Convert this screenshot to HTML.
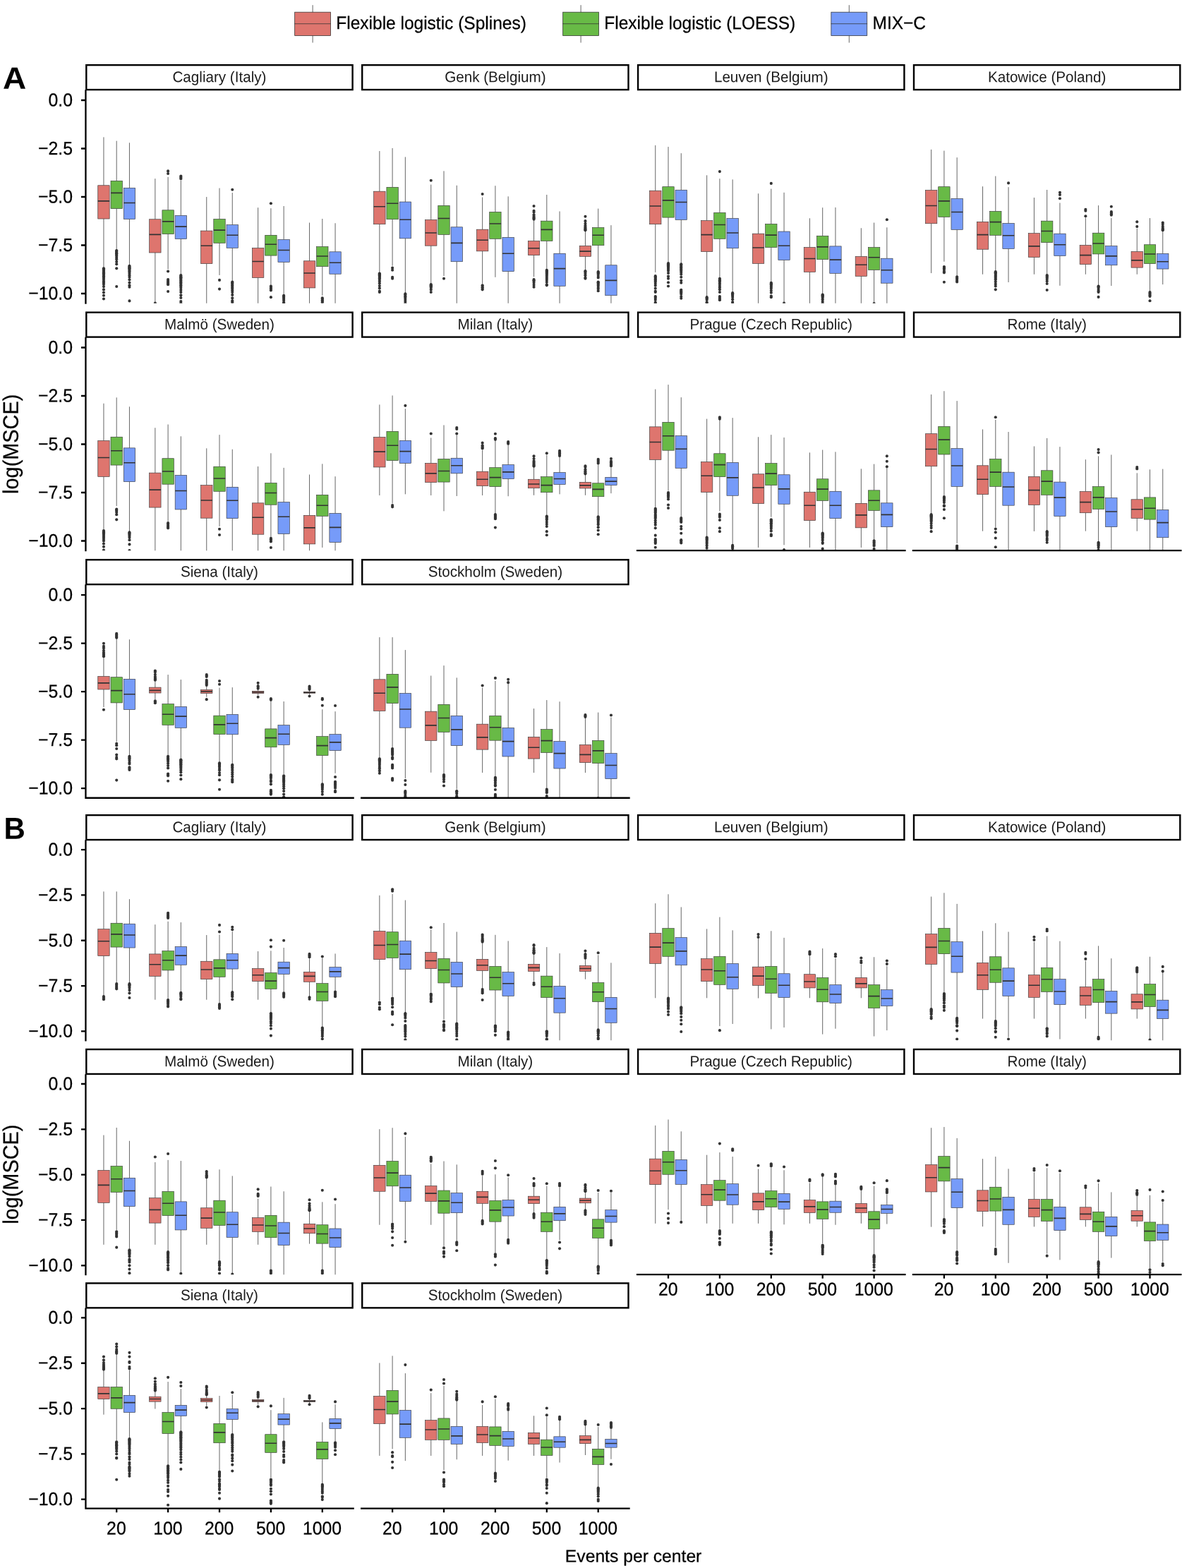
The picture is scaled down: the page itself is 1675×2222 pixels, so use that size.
<!DOCTYPE html>
<html lang="en"><head><meta charset="utf-8"><title>log(MSCE) by events per center</title><style>html,body{margin:0;padding:0;background:#fff}svg{display:block}</style></head><body><svg width="1675" height="2222" viewBox="0 0 1675 2222" font-family='"Liberation Sans", sans-serif' fill="#000"><defs><clipPath id="cA1"><rect x="121.1" y="128.3" width="379.7" height="301.4"/></clipPath><clipPath id="cA2"><rect x="512" y="128.3" width="379.7" height="301.4"/></clipPath><clipPath id="cA3"><rect x="902.9" y="128.3" width="379.7" height="301.4"/></clipPath><clipPath id="cA4"><rect x="1293.8" y="128.3" width="379.7" height="301.4"/></clipPath><clipPath id="cA5"><rect x="121.1" y="478.8" width="379.7" height="301.4"/></clipPath><clipPath id="cA6"><rect x="512" y="478.8" width="379.7" height="301.4"/></clipPath><clipPath id="cA7"><rect x="902.9" y="478.8" width="379.7" height="301.4"/></clipPath><clipPath id="cA8"><rect x="1293.8" y="478.8" width="379.7" height="301.4"/></clipPath><clipPath id="cA9"><rect x="121.1" y="829.35" width="379.7" height="301.4"/></clipPath><clipPath id="cA10"><rect x="512" y="829.35" width="379.7" height="301.4"/></clipPath><clipPath id="cB1"><rect x="121.1" y="1191.25" width="379.7" height="283"/></clipPath><clipPath id="cB2"><rect x="512" y="1191.25" width="379.7" height="283"/></clipPath><clipPath id="cB3"><rect x="902.9" y="1191.25" width="379.7" height="283"/></clipPath><clipPath id="cB4"><rect x="1293.8" y="1191.25" width="379.7" height="283"/></clipPath><clipPath id="cB5"><rect x="121.1" y="1523.15" width="379.7" height="283"/></clipPath><clipPath id="cB6"><rect x="512" y="1523.15" width="379.7" height="283"/></clipPath><clipPath id="cB7"><rect x="902.9" y="1523.15" width="379.7" height="283"/></clipPath><clipPath id="cB8"><rect x="1293.8" y="1523.15" width="379.7" height="283"/></clipPath><clipPath id="cB9"><rect x="121.1" y="1854.55" width="379.7" height="283"/></clipPath><clipPath id="cB10"><rect x="512" y="1854.55" width="379.7" height="283"/></clipPath></defs><rect x="122.3" y="92.2" width="377.3" height="34.9" fill="#fff" stroke="#000" stroke-width="2.4"/>
<text transform="translate(310.95 116.35) rotate(0.03) scale(1 1.04)" font-size="20.65" text-anchor="middle" fill="#1a1a1a">Cagliary (Italy)</text>
<g clip-path="url(#cA1)"><path d="M146.95 194.39V262.77M146.95 310.04V379.15M165.2 199.66V256.29M165.2 295.64V353.95M183.45 202.3V266.37M183.45 310.52V375.55M219.85 253.17V310.76M219.85 358.03V431.94M238.1 250.77V297.8M238.1 331.64V381.55M256.35 255.57V305.48M256.35 338.6V388.75M292.75 279.09V327.08M292.75 373.63V431.94M311 266.61V310.52M311 344.36V389.95M329.25 273.09V318.68M329.25 351.31V398.34M365.65 294.21V351.55M365.65 393.55V431.94M383.9 295.16V333.32M383.9 362.11V404.34M402.15 292.05V339.56M402.15 371.47V418.74M438.55 315.56V369.79M438.55 407.94V431.94M456.8 310.04V349.63M456.8 377.71V418.74M475.05 316.28V356.83M475.05 388.27V431.94" stroke="#333333" stroke-width="0.75" fill="none"/><g fill="#333333"><circle cx="146.95" cy="380.35" r="2.05"/><circle cx="146.95" cy="381.21" r="2.05"/><circle cx="146.95" cy="381.99" r="2.05"/><circle cx="146.95" cy="383.11" r="2.05"/><circle cx="146.95" cy="383.92" r="2.05"/><circle cx="146.95" cy="385.1" r="2.05"/><circle cx="146.95" cy="386.23" r="2.05"/><circle cx="146.95" cy="387.2" r="2.05"/><circle cx="146.95" cy="388.6" r="2.05"/><circle cx="146.95" cy="389.7" r="2.05"/><circle cx="146.95" cy="391.25" r="2.05"/><circle cx="146.95" cy="392.56" r="2.05"/><circle cx="146.95" cy="393.98" r="2.05"/><circle cx="146.95" cy="395.92" r="2.05"/><circle cx="146.95" cy="398.59" r="2.05"/><circle cx="146.95" cy="400.55" r="2.05"/><circle cx="146.95" cy="402.84" r="2.05"/><circle cx="146.95" cy="406.08" r="2.05"/><circle cx="146.95" cy="410.41" r="2.05"/><circle cx="146.95" cy="414.55" r="2.05"/><circle cx="146.95" cy="418.77" r="2.05"/><circle cx="146.95" cy="423.54" r="2.05"/><circle cx="165.2" cy="355.15" r="2.05"/><circle cx="165.2" cy="355.85" r="2.05"/><circle cx="165.2" cy="357.1" r="2.05"/><circle cx="165.2" cy="358.15" r="2.05"/><circle cx="165.2" cy="359.24" r="2.05"/><circle cx="165.2" cy="360.48" r="2.05"/><circle cx="165.2" cy="362.13" r="2.05"/><circle cx="165.2" cy="364.8" r="2.05"/><circle cx="165.2" cy="367.16" r="2.05"/><circle cx="165.2" cy="370.9" r="2.05"/><circle cx="165.2" cy="374.35" r="2.05"/><circle cx="165.2" cy="380.35" r="2.05"/><circle cx="165.2" cy="406.02" r="2.05"/><circle cx="183.45" cy="376.75" r="2.05"/><circle cx="183.45" cy="377.63" r="2.05"/><circle cx="183.45" cy="378.67" r="2.05"/><circle cx="183.45" cy="379.48" r="2.05"/><circle cx="183.45" cy="380.34" r="2.05"/><circle cx="183.45" cy="381.38" r="2.05"/><circle cx="183.45" cy="382.92" r="2.05"/><circle cx="183.45" cy="384.42" r="2.05"/><circle cx="183.45" cy="386" r="2.05"/><circle cx="183.45" cy="388.1" r="2.05"/><circle cx="183.45" cy="390.36" r="2.05"/><circle cx="183.45" cy="392.71" r="2.05"/><circle cx="183.45" cy="396.33" r="2.05"/><circle cx="183.45" cy="400.49" r="2.05"/><circle cx="183.45" cy="404.3" r="2.05"/><circle cx="183.45" cy="406.74" r="2.05"/><circle cx="183.45" cy="426.42" r="2.05"/><circle cx="219.85" cy="429.54" r="2.05"/><circle cx="238.1" cy="242.38" r="2.05"/><circle cx="238.1" cy="245.97" r="2.05"/><circle cx="238.1" cy="384.43" r="2.05"/><circle cx="238.1" cy="395.94" r="2.05"/><circle cx="238.1" cy="397.74" r="2.05"/><circle cx="238.1" cy="399.54" r="2.05"/><circle cx="238.1" cy="401.34" r="2.05"/><circle cx="238.1" cy="403.14" r="2.05"/><circle cx="238.1" cy="412.98" r="2.05"/><circle cx="256.35" cy="253.17" r="2.05"/><circle cx="256.35" cy="251.37" r="2.05"/><circle cx="256.35" cy="249.57" r="2.05"/><circle cx="256.35" cy="389.95" r="2.05"/><circle cx="256.35" cy="390.92" r="2.05"/><circle cx="256.35" cy="392.14" r="2.05"/><circle cx="256.35" cy="393.36" r="2.05"/><circle cx="256.35" cy="394.37" r="2.05"/><circle cx="256.35" cy="395.97" r="2.05"/><circle cx="256.35" cy="397.03" r="2.05"/><circle cx="256.35" cy="398.43" r="2.05"/><circle cx="256.35" cy="400.28" r="2.05"/><circle cx="256.35" cy="401.71" r="2.05"/><circle cx="256.35" cy="403.64" r="2.05"/><circle cx="256.35" cy="405.21" r="2.05"/><circle cx="256.35" cy="407.8" r="2.05"/><circle cx="256.35" cy="410.88" r="2.05"/><circle cx="256.35" cy="414.08" r="2.05"/><circle cx="256.35" cy="418.34" r="2.05"/><circle cx="256.35" cy="421.96" r="2.05"/><circle cx="256.35" cy="427.1" r="2.05"/><circle cx="256.35" cy="429.54" r="2.05"/><circle cx="311" cy="396.9" r="2.05"/><circle cx="311" cy="409.62" r="2.05"/><circle cx="329.25" cy="268.77" r="2.05"/><circle cx="329.25" cy="399.54" r="2.05"/><circle cx="329.25" cy="400.55" r="2.05"/><circle cx="329.25" cy="401.54" r="2.05"/><circle cx="329.25" cy="402.88" r="2.05"/><circle cx="329.25" cy="404.46" r="2.05"/><circle cx="329.25" cy="405.89" r="2.05"/><circle cx="329.25" cy="407.68" r="2.05"/><circle cx="329.25" cy="409.07" r="2.05"/><circle cx="329.25" cy="411.42" r="2.05"/><circle cx="329.25" cy="414.11" r="2.05"/><circle cx="329.25" cy="417.92" r="2.05"/><circle cx="329.25" cy="422.26" r="2.05"/><circle cx="329.25" cy="426.17" r="2.05"/><circle cx="329.25" cy="428.34" r="2.05"/><circle cx="383.9" cy="288.21" r="2.05"/><circle cx="383.9" cy="405.54" r="2.05"/><circle cx="383.9" cy="407.04" r="2.05"/><circle cx="383.9" cy="408.54" r="2.05"/><circle cx="383.9" cy="410.04" r="2.05"/><circle cx="383.9" cy="411.54" r="2.05"/><circle cx="383.9" cy="421.14" r="2.05"/><circle cx="402.15" cy="418.74" r="2.05"/><circle cx="402.15" cy="419.8" r="2.05"/><circle cx="402.15" cy="420.65" r="2.05"/><circle cx="402.15" cy="422.08" r="2.05"/><circle cx="402.15" cy="423.68" r="2.05"/><circle cx="402.15" cy="425.76" r="2.05"/><circle cx="402.15" cy="428.48" r="2.05"/><circle cx="402.15" cy="429.54" r="2.05"/><circle cx="456.8" cy="422.34" r="2.05"/><circle cx="456.8" cy="423.84" r="2.05"/><circle cx="456.8" cy="425.34" r="2.05"/><circle cx="456.8" cy="426.84" r="2.05"/><circle cx="456.8" cy="428.34" r="2.05"/></g><g stroke="#333333" stroke-width="0.62"><rect x="138.75" y="262.77" width="16.4" height="47.27" fill="#DE756E"/><rect x="157" y="256.29" width="16.4" height="39.35" fill="#68BA46"/><rect x="175.25" y="266.37" width="16.4" height="44.15" fill="#769BF9"/><rect x="211.65" y="310.76" width="16.4" height="47.27" fill="#DE756E"/><rect x="229.9" y="297.8" width="16.4" height="33.83" fill="#68BA46"/><rect x="248.15" y="305.48" width="16.4" height="33.11" fill="#769BF9"/><rect x="284.55" y="327.08" width="16.4" height="46.55" fill="#DE756E"/><rect x="302.8" y="310.52" width="16.4" height="33.83" fill="#68BA46"/><rect x="321.05" y="318.68" width="16.4" height="32.63" fill="#769BF9"/><rect x="357.45" y="351.55" width="16.4" height="41.99" fill="#DE756E"/><rect x="375.7" y="333.32" width="16.4" height="28.79" fill="#68BA46"/><rect x="393.95" y="339.56" width="16.4" height="31.91" fill="#769BF9"/><rect x="430.35" y="369.79" width="16.4" height="38.15" fill="#DE756E"/><rect x="448.6" y="349.63" width="16.4" height="28.07" fill="#68BA46"/><rect x="466.85" y="356.83" width="16.4" height="31.43" fill="#769BF9"/></g><path d="M138.75 284.85H155.15M157 273.33H173.4M175.25 287.49H191.65M211.65 332.36H228.05M229.9 313.88H246.3M248.15 321.08H264.55M284.55 348.19H300.95M302.8 326.12H319.2M321.05 333.32H337.45M357.45 370.51H373.85M375.7 346.27H392.1M393.95 354.43H410.35M430.35 387.07H446.75M448.6 363.07H465M466.85 372.19H483.25" stroke="#333333" stroke-width="1.6" fill="none"/></g>
<text transform="translate(103 150.4) rotate(0.03) scale(1 1.05)" font-size="24.8" text-anchor="end" stroke="#000" stroke-width="0.25">0.0</text>
<text transform="translate(103 218.9) rotate(0.03) scale(1 1.05)" font-size="24.8" text-anchor="end" stroke="#000" stroke-width="0.25">−2.5</text>
<text transform="translate(103 287.4) rotate(0.03) scale(1 1.05)" font-size="24.8" text-anchor="end" stroke="#000" stroke-width="0.25">−5.0</text>
<text transform="translate(103 355.9) rotate(0.03) scale(1 1.05)" font-size="24.8" text-anchor="end" stroke="#000" stroke-width="0.25">−7.5</text>
<text transform="translate(103 424.4) rotate(0.03) scale(1 1.05)" font-size="24.8" text-anchor="end" stroke="#000" stroke-width="0.25">−10.0</text>
<path d="M121.45 127.3V430.85M115 142H121.45M115 210.5H121.45M115 279H121.45M115 347.5H121.45M115 416H121.45" stroke="#000" stroke-width="2.3" fill="none"/>
<rect x="513.2" y="92.2" width="377.3" height="34.9" fill="#fff" stroke="#000" stroke-width="2.4"/>
<text transform="translate(701.85 116.35) rotate(0.03) scale(1 1.04)" font-size="20.65" text-anchor="middle" fill="#1a1a1a">Genk (Belgium)</text>
<g clip-path="url(#cA2)"><path d="M537.85 214.06V271.17M537.85 317.72V387.55M556.1 209.98V265.41M556.1 310.76V376.75M574.35 222.46V286.05M574.35 337.88V415.14M610.75 261.57V311.48M610.75 348.19V401.94M629 242.38V291.33M629 332.36V391.15M647.25 262.77V321.8M647.25 370.75V431.94M683.65 279.57V325.16M683.65 355.87V401.94M701.9 263.25V300.44M701.9 338.36V392.83M720.15 278.37V336.44M720.15 384.67V431.94M756.55 311.96V341.48M756.55 361.63V392.35M774.8 275.97V313.16M774.8 341.48V381.55M793.05 299.48V359.23M793.05 405.3V431.94M829.45 327.56V348.43M829.45 363.31V382.75M847.7 295.64V322.52M847.7 347.71V383.95M865.95 319.16V375.79M865.95 418.74V431.94" stroke="#333333" stroke-width="0.75" fill="none"/><g fill="#333333"><circle cx="537.85" cy="387.55" r="2.05"/><circle cx="537.85" cy="388.29" r="2.05"/><circle cx="537.85" cy="389.15" r="2.05"/><circle cx="537.85" cy="390.16" r="2.05"/><circle cx="537.85" cy="391.63" r="2.05"/><circle cx="537.85" cy="392.66" r="2.05"/><circle cx="537.85" cy="394.14" r="2.05"/><circle cx="537.85" cy="395.94" r="2.05"/><circle cx="537.85" cy="398.46" r="2.05"/><circle cx="537.85" cy="401.41" r="2.05"/><circle cx="537.85" cy="405.12" r="2.05"/><circle cx="537.85" cy="408.4" r="2.05"/><circle cx="537.85" cy="412.67" r="2.05"/><circle cx="537.85" cy="413.94" r="2.05"/><circle cx="556.1" cy="379.63" r="2.05"/><circle cx="556.1" cy="382.75" r="2.05"/><circle cx="556.1" cy="392.83" r="2.05"/><circle cx="556.1" cy="394.75" r="2.05"/><circle cx="574.35" cy="416.34" r="2.05"/><circle cx="574.35" cy="417.52" r="2.05"/><circle cx="574.35" cy="419.01" r="2.05"/><circle cx="574.35" cy="420.24" r="2.05"/><circle cx="574.35" cy="421.81" r="2.05"/><circle cx="574.35" cy="423.9" r="2.05"/><circle cx="574.35" cy="426.66" r="2.05"/><circle cx="574.35" cy="429.54" r="2.05"/><circle cx="610.75" cy="255.81" r="2.05"/><circle cx="610.75" cy="403.14" r="2.05"/><circle cx="610.75" cy="404.15" r="2.05"/><circle cx="610.75" cy="405.17" r="2.05"/><circle cx="610.75" cy="406.22" r="2.05"/><circle cx="610.75" cy="408.03" r="2.05"/><circle cx="610.75" cy="410.49" r="2.05"/><circle cx="610.75" cy="413.94" r="2.05"/><circle cx="629" cy="394.75" r="2.05"/><circle cx="683.65" cy="275.01" r="2.05"/><circle cx="683.65" cy="404.34" r="2.05"/><circle cx="683.65" cy="405.84" r="2.05"/><circle cx="683.65" cy="407.34" r="2.05"/><circle cx="683.65" cy="408.84" r="2.05"/><circle cx="683.65" cy="410.34" r="2.05"/><circle cx="756.55" cy="292.05" r="2.05"/><circle cx="756.55" cy="310.76" r="2.05"/><circle cx="756.55" cy="309.54" r="2.05"/><circle cx="756.55" cy="308.2" r="2.05"/><circle cx="756.55" cy="306.58" r="2.05"/><circle cx="756.55" cy="304.24" r="2.05"/><circle cx="756.55" cy="300.78" r="2.05"/><circle cx="756.55" cy="298.76" r="2.05"/><circle cx="756.55" cy="395.94" r="2.05"/><circle cx="756.55" cy="397.13" r="2.05"/><circle cx="756.55" cy="398.57" r="2.05"/><circle cx="756.55" cy="400.69" r="2.05"/><circle cx="756.55" cy="403.76" r="2.05"/><circle cx="756.55" cy="406.74" r="2.05"/><circle cx="774.8" cy="382.75" r="2.05"/><circle cx="774.8" cy="383.65" r="2.05"/><circle cx="774.8" cy="384.44" r="2.05"/><circle cx="774.8" cy="385.67" r="2.05"/><circle cx="774.8" cy="386.64" r="2.05"/><circle cx="774.8" cy="387.73" r="2.05"/><circle cx="774.8" cy="389.11" r="2.05"/><circle cx="774.8" cy="390.66" r="2.05"/><circle cx="774.8" cy="392.7" r="2.05"/><circle cx="774.8" cy="394.68" r="2.05"/><circle cx="774.8" cy="396.91" r="2.05"/><circle cx="774.8" cy="399.86" r="2.05"/><circle cx="774.8" cy="403.29" r="2.05"/><circle cx="774.8" cy="404.34" r="2.05"/><circle cx="829.45" cy="306.68" r="2.05"/><circle cx="829.45" cy="326.36" r="2.05"/><circle cx="829.45" cy="325.67" r="2.05"/><circle cx="829.45" cy="324.37" r="2.05"/><circle cx="829.45" cy="322.91" r="2.05"/><circle cx="829.45" cy="321.49" r="2.05"/><circle cx="829.45" cy="319.55" r="2.05"/><circle cx="829.45" cy="316.84" r="2.05"/><circle cx="829.45" cy="313.16" r="2.05"/><circle cx="829.45" cy="383.95" r="2.05"/><circle cx="829.45" cy="384.69" r="2.05"/><circle cx="829.45" cy="386.03" r="2.05"/><circle cx="829.45" cy="388.01" r="2.05"/><circle cx="829.45" cy="390.26" r="2.05"/><circle cx="829.45" cy="393.58" r="2.05"/><circle cx="829.45" cy="394.75" r="2.05"/><circle cx="847.7" cy="385.15" r="2.05"/><circle cx="847.7" cy="385.88" r="2.05"/><circle cx="847.7" cy="386.93" r="2.05"/><circle cx="847.7" cy="388.3" r="2.05"/><circle cx="847.7" cy="391.06" r="2.05"/><circle cx="847.7" cy="393.55" r="2.05"/><circle cx="847.7" cy="399.54" r="2.05"/><circle cx="847.7" cy="400.23" r="2.05"/><circle cx="847.7" cy="401.59" r="2.05"/><circle cx="847.7" cy="403.01" r="2.05"/><circle cx="847.7" cy="404.47" r="2.05"/><circle cx="847.7" cy="406.89" r="2.05"/><circle cx="847.7" cy="409.26" r="2.05"/><circle cx="847.7" cy="412.26" r="2.05"/></g><g stroke="#333333" stroke-width="0.62"><rect x="529.65" y="271.17" width="16.4" height="46.55" fill="#DE756E"/><rect x="547.9" y="265.41" width="16.4" height="45.35" fill="#68BA46"/><rect x="566.15" y="286.05" width="16.4" height="51.83" fill="#769BF9"/><rect x="602.55" y="311.48" width="16.4" height="36.71" fill="#DE756E"/><rect x="620.8" y="291.33" width="16.4" height="41.03" fill="#68BA46"/><rect x="639.05" y="321.8" width="16.4" height="48.95" fill="#769BF9"/><rect x="675.45" y="325.16" width="16.4" height="30.71" fill="#DE756E"/><rect x="693.7" y="300.44" width="16.4" height="37.91" fill="#68BA46"/><rect x="711.95" y="336.44" width="16.4" height="48.23" fill="#769BF9"/><rect x="748.35" y="341.48" width="16.4" height="20.16" fill="#DE756E"/><rect x="766.6" y="313.16" width="16.4" height="28.31" fill="#68BA46"/><rect x="784.85" y="359.23" width="16.4" height="46.07" fill="#769BF9"/><rect x="821.25" y="348.43" width="16.4" height="14.88" fill="#DE756E"/><rect x="839.5" y="322.52" width="16.4" height="25.19" fill="#68BA46"/><rect x="857.75" y="375.79" width="16.4" height="42.95" fill="#769BF9"/></g><path d="M529.65 292.77H546.05M547.9 288.21H564.3M566.15 311.24H582.55M602.55 329.96H618.95M620.8 309.56H637.2M639.05 344.36H655.45M675.45 340.28H691.85M693.7 317H710.1M711.95 359.23H728.35M748.35 351.79H764.75M766.6 325.4H783M784.85 380.59H801.25M821.25 356.11H837.65M839.5 333.32H855.9M857.75 397.38H874.15" stroke="#333333" stroke-width="1.6" fill="none"/></g>
<rect x="904.1" y="92.2" width="377.3" height="34.9" fill="#fff" stroke="#000" stroke-width="2.4"/>
<text transform="translate(1092.75 116.35) rotate(0.03) scale(1 1.04)" font-size="20.65" text-anchor="middle" fill="#1a1a1a">Leuven (Belgium)</text>
<g clip-path="url(#cA3)"><path d="M928.75 205.9V270.21M928.75 317.72V385.87M947 208.06V264.69M947 308.12V371.95M965.25 217.18V269.25M965.25 311.48V373.15M1001.65 248.37V312.68M1001.65 356.59V419.94M1019.9 253.17V301.4M1019.9 338.36V393.55M1038.15 254.37V309.56M1038.15 351.79V413.94M1074.55 274.29V331.16M1074.55 373.39V431.94M1092.8 267.57V317.48M1092.8 350.59V399.54M1111.05 272.85V328.04M1111.05 368.59V431.94M1147.45 309.32V350.59M1147.45 385.39V431.94M1165.7 294.21V334.28M1165.7 367.63V417.06M1183.95 293.97V348.91M1183.95 387.31V431.94M1220.35 323.24V363.55M1220.35 391.39V431.94M1238.6 315.56V350.59M1238.6 382.51V431.94M1256.85 322.28V366.19M1256.85 401.22V431.94" stroke="#333333" stroke-width="0.75" fill="none"/><g fill="#333333"><circle cx="928.75" cy="391.15" r="2.05"/><circle cx="928.75" cy="392.38" r="2.05"/><circle cx="928.75" cy="393.68" r="2.05"/><circle cx="928.75" cy="395.06" r="2.05"/><circle cx="928.75" cy="396.3" r="2.05"/><circle cx="928.75" cy="397.83" r="2.05"/><circle cx="928.75" cy="399.37" r="2.05"/><circle cx="928.75" cy="401.97" r="2.05"/><circle cx="928.75" cy="404.81" r="2.05"/><circle cx="928.75" cy="408.81" r="2.05"/><circle cx="928.75" cy="412.76" r="2.05"/><circle cx="928.75" cy="413.94" r="2.05"/><circle cx="928.75" cy="419.94" r="2.05"/><circle cx="928.75" cy="421.08" r="2.05"/><circle cx="928.75" cy="422.71" r="2.05"/><circle cx="928.75" cy="425.02" r="2.05"/><circle cx="928.75" cy="428.64" r="2.05"/><circle cx="928.75" cy="429.54" r="2.05"/><circle cx="947" cy="373.15" r="2.05"/><circle cx="947" cy="374.25" r="2.05"/><circle cx="947" cy="375.13" r="2.05"/><circle cx="947" cy="376.32" r="2.05"/><circle cx="947" cy="377.56" r="2.05"/><circle cx="947" cy="378.68" r="2.05"/><circle cx="947" cy="379.96" r="2.05"/><circle cx="947" cy="381.72" r="2.05"/><circle cx="947" cy="383.78" r="2.05"/><circle cx="947" cy="386.98" r="2.05"/><circle cx="947" cy="391.62" r="2.05"/><circle cx="947" cy="394.75" r="2.05"/><circle cx="947" cy="400.26" r="2.05"/><circle cx="947" cy="405.54" r="2.05"/><circle cx="965.25" cy="374.35" r="2.05"/><circle cx="965.25" cy="375.56" r="2.05"/><circle cx="965.25" cy="376.91" r="2.05"/><circle cx="965.25" cy="378.43" r="2.05"/><circle cx="965.25" cy="379.7" r="2.05"/><circle cx="965.25" cy="381" r="2.05"/><circle cx="965.25" cy="382.48" r="2.05"/><circle cx="965.25" cy="384.11" r="2.05"/><circle cx="965.25" cy="385.98" r="2.05"/><circle cx="965.25" cy="388.79" r="2.05"/><circle cx="965.25" cy="392.7" r="2.05"/><circle cx="965.25" cy="397.46" r="2.05"/><circle cx="965.25" cy="400.74" r="2.05"/><circle cx="965.25" cy="410.82" r="2.05"/><circle cx="965.25" cy="411.87" r="2.05"/><circle cx="965.25" cy="413.24" r="2.05"/><circle cx="965.25" cy="414.41" r="2.05"/><circle cx="965.25" cy="416.56" r="2.05"/><circle cx="965.25" cy="420.04" r="2.05"/><circle cx="965.25" cy="422.82" r="2.05"/><circle cx="1001.65" cy="421.14" r="2.05"/><circle cx="1001.65" cy="422.24" r="2.05"/><circle cx="1001.65" cy="423.53" r="2.05"/><circle cx="1001.65" cy="425.06" r="2.05"/><circle cx="1001.65" cy="428.28" r="2.05"/><circle cx="1001.65" cy="429.54" r="2.05"/><circle cx="1019.9" cy="243.1" r="2.05"/><circle cx="1019.9" cy="394.75" r="2.05"/><circle cx="1019.9" cy="395.88" r="2.05"/><circle cx="1019.9" cy="397.27" r="2.05"/><circle cx="1019.9" cy="398.49" r="2.05"/><circle cx="1019.9" cy="399.93" r="2.05"/><circle cx="1019.9" cy="402.25" r="2.05"/><circle cx="1019.9" cy="404.95" r="2.05"/><circle cx="1019.9" cy="407.41" r="2.05"/><circle cx="1019.9" cy="410.33" r="2.05"/><circle cx="1019.9" cy="413.94" r="2.05"/><circle cx="1019.9" cy="419.94" r="2.05"/><circle cx="1019.9" cy="421.7" r="2.05"/><circle cx="1019.9" cy="423.46" r="2.05"/><circle cx="1019.9" cy="425.22" r="2.05"/><circle cx="1038.15" cy="415.14" r="2.05"/><circle cx="1038.15" cy="416.33" r="2.05"/><circle cx="1038.15" cy="417.69" r="2.05"/><circle cx="1038.15" cy="418.85" r="2.05"/><circle cx="1038.15" cy="420.98" r="2.05"/><circle cx="1038.15" cy="424.13" r="2.05"/><circle cx="1038.15" cy="428.03" r="2.05"/><circle cx="1038.15" cy="429.54" r="2.05"/><circle cx="1092.8" cy="259.89" r="2.05"/><circle cx="1092.8" cy="400.74" r="2.05"/><circle cx="1092.8" cy="401.73" r="2.05"/><circle cx="1092.8" cy="402.55" r="2.05"/><circle cx="1092.8" cy="403.38" r="2.05"/><circle cx="1092.8" cy="405.04" r="2.05"/><circle cx="1092.8" cy="406.78" r="2.05"/><circle cx="1092.8" cy="408.75" r="2.05"/><circle cx="1092.8" cy="411.75" r="2.05"/><circle cx="1092.8" cy="414.74" r="2.05"/><circle cx="1092.8" cy="419.51" r="2.05"/><circle cx="1092.8" cy="421.14" r="2.05"/><circle cx="1111.05" cy="429.54" r="2.05"/><circle cx="1165.7" cy="417.54" r="2.05"/><circle cx="1165.7" cy="418.33" r="2.05"/><circle cx="1165.7" cy="419.27" r="2.05"/><circle cx="1165.7" cy="420.45" r="2.05"/><circle cx="1165.7" cy="421.9" r="2.05"/><circle cx="1165.7" cy="424.27" r="2.05"/><circle cx="1165.7" cy="427.02" r="2.05"/><circle cx="1165.7" cy="429.54" r="2.05"/><circle cx="1238.6" cy="430.02" r="2.05"/><circle cx="1256.85" cy="311.24" r="2.05"/></g><g stroke="#333333" stroke-width="0.62"><rect x="920.55" y="270.21" width="16.4" height="47.51" fill="#DE756E"/><rect x="938.8" y="264.69" width="16.4" height="43.43" fill="#68BA46"/><rect x="957.05" y="269.25" width="16.4" height="42.23" fill="#769BF9"/><rect x="993.45" y="312.68" width="16.4" height="43.91" fill="#DE756E"/><rect x="1011.7" y="301.4" width="16.4" height="36.95" fill="#68BA46"/><rect x="1029.95" y="309.56" width="16.4" height="42.23" fill="#769BF9"/><rect x="1066.35" y="331.16" width="16.4" height="42.23" fill="#DE756E"/><rect x="1084.6" y="317.48" width="16.4" height="33.11" fill="#68BA46"/><rect x="1102.85" y="328.04" width="16.4" height="40.55" fill="#769BF9"/><rect x="1139.25" y="350.59" width="16.4" height="34.79" fill="#DE756E"/><rect x="1157.5" y="334.28" width="16.4" height="33.35" fill="#68BA46"/><rect x="1175.75" y="348.91" width="16.4" height="38.39" fill="#769BF9"/><rect x="1212.15" y="363.55" width="16.4" height="27.83" fill="#DE756E"/><rect x="1230.4" y="350.59" width="16.4" height="31.91" fill="#68BA46"/><rect x="1248.65" y="366.19" width="16.4" height="35.03" fill="#769BF9"/></g><path d="M920.55 292.05H936.95M938.8 283.89H955.2M957.05 286.53H973.45M993.45 332.6H1009.85M1011.7 318.44H1028.1M1029.95 329.96H1046.35M1066.35 351.07H1082.75M1084.6 333.08H1101M1102.85 348.19H1119.25M1139.25 366.43H1155.65M1157.5 349.87H1173.9M1175.75 368.11H1192.15M1212.15 375.31H1228.55M1230.4 364.75H1246.8M1248.65 382.75H1265.05" stroke="#333333" stroke-width="1.6" fill="none"/></g>
<rect x="1295" y="92.2" width="377.3" height="34.9" fill="#fff" stroke="#000" stroke-width="2.4"/>
<text transform="translate(1483.65 116.35) rotate(0.03) scale(1 1.04)" font-size="20.65" text-anchor="middle" fill="#1a1a1a">Katowice (Poland)</text>
<g clip-path="url(#cA4)"><path d="M1319.65 211.9V269.49M1319.65 316.76V387.07M1337.9 213.58V264.69M1337.9 307.4V370.75M1356.15 223.18V281.49M1356.15 325.4V391.15M1392.55 264.21V314.36M1392.55 353.23V388.75M1410.8 249.57V299.48M1410.8 333.32V383.95M1429.05 265.17V316.52M1429.05 352.51V400.02M1465.45 280.05V330.68M1465.45 364.51V388.75M1483.7 269.01V313.16M1483.7 343.64V388.75M1501.95 287.49V331.16M1501.95 362.59V404.82M1538.35 308.36V347.47M1538.35 374.59V388.75M1556.6 291.09V330.2M1556.6 359.95V404.34M1574.85 309.08V348.67M1574.85 375.79V405.06M1611.25 323.96V356.59M1611.25 379.15V388.75M1629.5 309.08V346.75M1629.5 373.63V412.74M1647.75 328.28V359.47M1647.75 381.07V403.14" stroke="#333333" stroke-width="0.75" fill="none"/><g fill="#333333"><circle cx="1337.9" cy="377.95" r="2.05"/><circle cx="1337.9" cy="378.7" r="2.05"/><circle cx="1337.9" cy="380.15" r="2.05"/><circle cx="1337.9" cy="381.79" r="2.05"/><circle cx="1337.9" cy="384.42" r="2.05"/><circle cx="1337.9" cy="386.35" r="2.05"/><circle cx="1337.9" cy="399.78" r="2.05"/><circle cx="1356.15" cy="392.35" r="2.05"/><circle cx="1356.15" cy="394.15" r="2.05"/><circle cx="1356.15" cy="395.94" r="2.05"/><circle cx="1356.15" cy="397.74" r="2.05"/><circle cx="1356.15" cy="399.54" r="2.05"/><circle cx="1410.8" cy="385.15" r="2.05"/><circle cx="1410.8" cy="386.34" r="2.05"/><circle cx="1410.8" cy="387.37" r="2.05"/><circle cx="1410.8" cy="388.9" r="2.05"/><circle cx="1410.8" cy="390.4" r="2.05"/><circle cx="1410.8" cy="392.21" r="2.05"/><circle cx="1410.8" cy="394.41" r="2.05"/><circle cx="1410.8" cy="396.32" r="2.05"/><circle cx="1410.8" cy="399.36" r="2.05"/><circle cx="1410.8" cy="402.57" r="2.05"/><circle cx="1410.8" cy="405.54" r="2.05"/><circle cx="1410.8" cy="410.34" r="2.05"/><circle cx="1429.05" cy="259.41" r="2.05"/><circle cx="1483.7" cy="389.95" r="2.05"/><circle cx="1483.7" cy="391.08" r="2.05"/><circle cx="1483.7" cy="392.03" r="2.05"/><circle cx="1483.7" cy="393.46" r="2.05"/><circle cx="1483.7" cy="395.65" r="2.05"/><circle cx="1483.7" cy="398.53" r="2.05"/><circle cx="1483.7" cy="401.94" r="2.05"/><circle cx="1483.7" cy="411.06" r="2.05"/><circle cx="1501.95" cy="272.85" r="2.05"/><circle cx="1501.95" cy="275.97" r="2.05"/><circle cx="1501.95" cy="281.25" r="2.05"/><circle cx="1538.35" cy="296.84" r="2.05"/><circle cx="1538.35" cy="298.76" r="2.05"/><circle cx="1538.35" cy="306.2" r="2.05"/><circle cx="1556.6" cy="405.54" r="2.05"/><circle cx="1556.6" cy="406.51" r="2.05"/><circle cx="1556.6" cy="407.8" r="2.05"/><circle cx="1556.6" cy="409.95" r="2.05"/><circle cx="1556.6" cy="412.27" r="2.05"/><circle cx="1556.6" cy="413.94" r="2.05"/><circle cx="1556.6" cy="420.9" r="2.05"/><circle cx="1574.85" cy="292.77" r="2.05"/><circle cx="1574.85" cy="304.76" r="2.05"/><circle cx="1574.85" cy="303.16" r="2.05"/><circle cx="1574.85" cy="301.56" r="2.05"/><circle cx="1574.85" cy="299.96" r="2.05"/><circle cx="1611.25" cy="314.36" r="2.05"/><circle cx="1611.25" cy="321.08" r="2.05"/><circle cx="1629.5" cy="413.94" r="2.05"/><circle cx="1629.5" cy="415.44" r="2.05"/><circle cx="1629.5" cy="416.94" r="2.05"/><circle cx="1629.5" cy="418.44" r="2.05"/><circle cx="1629.5" cy="419.94" r="2.05"/><circle cx="1629.5" cy="426.18" r="2.05"/><circle cx="1647.75" cy="326.36" r="2.05"/><circle cx="1647.75" cy="325.54" r="2.05"/><circle cx="1647.75" cy="324.57" r="2.05"/><circle cx="1647.75" cy="322.91" r="2.05"/><circle cx="1647.75" cy="320.85" r="2.05"/><circle cx="1647.75" cy="317.79" r="2.05"/><circle cx="1647.75" cy="315.56" r="2.05"/></g><g stroke="#333333" stroke-width="0.62"><rect x="1311.45" y="269.49" width="16.4" height="47.27" fill="#DE756E"/><rect x="1329.7" y="264.69" width="16.4" height="42.71" fill="#68BA46"/><rect x="1347.95" y="281.49" width="16.4" height="43.91" fill="#769BF9"/><rect x="1384.35" y="314.36" width="16.4" height="38.87" fill="#DE756E"/><rect x="1402.6" y="299.48" width="16.4" height="33.83" fill="#68BA46"/><rect x="1420.85" y="316.52" width="16.4" height="35.99" fill="#769BF9"/><rect x="1457.25" y="330.68" width="16.4" height="33.83" fill="#DE756E"/><rect x="1475.5" y="313.16" width="16.4" height="30.47" fill="#68BA46"/><rect x="1493.75" y="331.16" width="16.4" height="31.43" fill="#769BF9"/><rect x="1530.15" y="347.47" width="16.4" height="27.11" fill="#DE756E"/><rect x="1548.4" y="330.2" width="16.4" height="29.75" fill="#68BA46"/><rect x="1566.65" y="348.67" width="16.4" height="27.11" fill="#769BF9"/><rect x="1603.05" y="356.59" width="16.4" height="22.56" fill="#DE756E"/><rect x="1621.3" y="346.75" width="16.4" height="26.87" fill="#68BA46"/><rect x="1639.55" y="359.47" width="16.4" height="21.6" fill="#769BF9"/></g><path d="M1311.45 291.57H1327.85M1329.7 284.85H1346.1M1347.95 300.44H1364.35M1384.35 332.6H1400.75M1402.6 314.6H1419M1420.85 333.8H1437.25M1457.25 348.91H1473.65M1475.5 327.56H1491.9M1493.75 346.75H1510.15M1530.15 361.63H1546.55M1548.4 345.07H1564.8M1566.65 362.83H1583.05M1603.05 368.83H1619.45M1621.3 359.95H1637.7M1639.55 370.75H1655.95" stroke="#333333" stroke-width="1.6" fill="none"/></g>
<rect x="122.3" y="442.7" width="377.3" height="34.9" fill="#fff" stroke="#000" stroke-width="2.4"/>
<text transform="translate(310.95 466.85) rotate(0.03) scale(1 1.04)" font-size="20.65" text-anchor="middle" fill="#1a1a1a">Malmö (Sweden)</text>
<g clip-path="url(#cA5)"><path d="M146.95 571.74V624.53M146.95 675.4V750.74M165.2 563.34V619.25M165.2 659.08V717.15M183.45 576.3V634.85M183.45 682.6V753.14M219.85 606.29V670.12M219.85 719.07V781.94M238.1 601.49V649.72M238.1 686.2V738.75M256.35 618.29V673.48M256.35 721.95V781.94M292.75 635.33V687.64M292.75 734.19V781.94M311 616.13V661.24M311 696.27V745.94M329.25 636.77V690.28M329.25 734.67V781.94M365.65 661V712.83M365.65 757.22V781.94M383.9 642.29V684.52M383.9 715.23V761.54M402.15 662.92V711.63M402.15 756.5V781.94M438.55 672.52V730.35M438.55 770.9V781.94M456.8 657.4V701.31M456.8 731.31V775.94M475.05 675.16V727.47M475.05 768.5V781.94" stroke="#333333" stroke-width="0.75" fill="none"/><g fill="#333333"><circle cx="146.95" cy="751.94" r="2.05"/><circle cx="146.95" cy="753.14" r="2.05"/><circle cx="146.95" cy="754.15" r="2.05"/><circle cx="146.95" cy="755.36" r="2.05"/><circle cx="146.95" cy="756.64" r="2.05"/><circle cx="146.95" cy="758.1" r="2.05"/><circle cx="146.95" cy="759.93" r="2.05"/><circle cx="146.95" cy="761.79" r="2.05"/><circle cx="146.95" cy="764.05" r="2.05"/><circle cx="146.95" cy="766.62" r="2.05"/><circle cx="146.95" cy="770.51" r="2.05"/><circle cx="146.95" cy="774.79" r="2.05"/><circle cx="146.95" cy="779.54" r="2.05"/><circle cx="165.2" cy="721.47" r="2.05"/><circle cx="165.2" cy="722.68" r="2.05"/><circle cx="165.2" cy="723.88" r="2.05"/><circle cx="165.2" cy="725.97" r="2.05"/><circle cx="165.2" cy="729.15" r="2.05"/><circle cx="165.2" cy="736.35" r="2.05"/><circle cx="183.45" cy="754.34" r="2.05"/><circle cx="183.45" cy="755.5" r="2.05"/><circle cx="183.45" cy="756.46" r="2.05"/><circle cx="183.45" cy="757.64" r="2.05"/><circle cx="183.45" cy="759.56" r="2.05"/><circle cx="183.45" cy="761.66" r="2.05"/><circle cx="183.45" cy="765.14" r="2.05"/><circle cx="183.45" cy="771.38" r="2.05"/><circle cx="183.45" cy="780.02" r="2.05"/><circle cx="238.1" cy="741.15" r="2.05"/><circle cx="238.1" cy="742.95" r="2.05"/><circle cx="238.1" cy="744.75" r="2.05"/><circle cx="238.1" cy="746.54" r="2.05"/><circle cx="238.1" cy="748.34" r="2.05"/><circle cx="311" cy="749.78" r="2.05"/><circle cx="311" cy="757.94" r="2.05"/><circle cx="383.9" cy="762.74" r="2.05"/><circle cx="383.9" cy="764.34" r="2.05"/><circle cx="383.9" cy="765.94" r="2.05"/><circle cx="383.9" cy="767.54" r="2.05"/><circle cx="383.9" cy="775.94" r="2.05"/></g><g stroke="#333333" stroke-width="0.62"><rect x="138.75" y="624.53" width="16.4" height="50.87" fill="#DE756E"/><rect x="157" y="619.25" width="16.4" height="39.83" fill="#68BA46"/><rect x="175.25" y="634.85" width="16.4" height="47.75" fill="#769BF9"/><rect x="211.65" y="670.12" width="16.4" height="48.95" fill="#DE756E"/><rect x="229.9" y="649.72" width="16.4" height="36.47" fill="#68BA46"/><rect x="248.15" y="673.48" width="16.4" height="48.47" fill="#769BF9"/><rect x="284.55" y="687.64" width="16.4" height="46.55" fill="#DE756E"/><rect x="302.8" y="661.24" width="16.4" height="35.03" fill="#68BA46"/><rect x="321.05" y="690.28" width="16.4" height="44.39" fill="#769BF9"/><rect x="357.45" y="712.83" width="16.4" height="44.39" fill="#DE756E"/><rect x="375.7" y="684.52" width="16.4" height="30.71" fill="#68BA46"/><rect x="393.95" y="711.63" width="16.4" height="44.87" fill="#769BF9"/><rect x="430.35" y="730.35" width="16.4" height="40.55" fill="#DE756E"/><rect x="448.6" y="701.31" width="16.4" height="29.99" fill="#68BA46"/><rect x="466.85" y="727.47" width="16.4" height="41.03" fill="#769BF9"/></g><path d="M138.75 648.52H155.15M157 638.69H173.4M175.25 655.72H191.65M211.65 694.12H228.05M229.9 667.96H246.3M248.15 695.55H264.55M284.55 708.99H300.95M302.8 678.04H319.2M321.05 709.23H337.45M357.45 733.23H373.85M375.7 698.43H392.1M393.95 732.27H410.35M430.35 747.86H446.75M448.6 716.19H465M466.85 747.38H483.25" stroke="#333333" stroke-width="1.6" fill="none"/></g>
<text transform="translate(103 500.9) rotate(0.03) scale(1 1.05)" font-size="24.8" text-anchor="end" stroke="#000" stroke-width="0.25">0.0</text>
<text transform="translate(103 569.4) rotate(0.03) scale(1 1.05)" font-size="24.8" text-anchor="end" stroke="#000" stroke-width="0.25">−2.5</text>
<text transform="translate(103 637.9) rotate(0.03) scale(1 1.05)" font-size="24.8" text-anchor="end" stroke="#000" stroke-width="0.25">−5.0</text>
<text transform="translate(103 706.4) rotate(0.03) scale(1 1.05)" font-size="24.8" text-anchor="end" stroke="#000" stroke-width="0.25">−7.5</text>
<text transform="translate(103 774.9) rotate(0.03) scale(1 1.05)" font-size="24.8" text-anchor="end" stroke="#000" stroke-width="0.25">−10.0</text>
<path d="M121.45 477.8V781.35M115 492.5H121.45M115 561H121.45M115 629.5H121.45M115 698H121.45M115 766.5H121.45" stroke="#000" stroke-width="2.3" fill="none"/>
<rect x="513.2" y="442.7" width="377.3" height="34.9" fill="#fff" stroke="#000" stroke-width="2.4"/>
<text transform="translate(701.85 466.85) rotate(0.03) scale(1 1.04)" font-size="20.65" text-anchor="middle" fill="#1a1a1a">Milan (Italy)</text>
<g clip-path="url(#cA6)"><path d="M537.85 573.42V619.49M537.85 661.96V702.03M556.1 560.46V611.33M556.1 652.6V713.55M574.35 579.18V624.29M574.35 656.44V700.35M610.75 620.45V656.44M610.75 683.56V702.03M629 602.45V650.44M629 683.08V724.35M647.25 616.37V649.24M647.25 670.84V702.99M683.65 637.97V668.2M683.65 688.6V702.03M701.9 623.57V662.68M701.9 689.56V727.95M720.15 630.77V658.6M720.15 678.52V703.23M756.55 661.96V679.24M756.55 691.72V701.79M774.8 644.45V675.64M774.8 697.71V730.35M793.05 647.56V669.64M793.05 686.44V700.35M829.45 672.76V683.32M829.45 691.96V701.79M847.7 657.64V684.76M847.7 703.71V731.07M865.95 661.48V676.36M865.95 687.64V699.15" stroke="#333333" stroke-width="0.75" fill="none"/><g fill="#333333"><circle cx="556.1" cy="715.95" r="2.05"/><circle cx="556.1" cy="718.35" r="2.05"/><circle cx="574.35" cy="574.86" r="2.05"/><circle cx="610.75" cy="614.45" r="2.05"/><circle cx="647.25" cy="606.05" r="2.05"/><circle cx="647.25" cy="607.97" r="2.05"/><circle cx="647.25" cy="614.45" r="2.05"/><circle cx="683.65" cy="627.65" r="2.05"/><circle cx="683.65" cy="635.57" r="2.05"/><circle cx="683.65" cy="634.13" r="2.05"/><circle cx="683.65" cy="632.69" r="2.05"/><circle cx="683.65" cy="631.25" r="2.05"/><circle cx="701.9" cy="614.69" r="2.05"/><circle cx="701.9" cy="622.85" r="2.05"/><circle cx="701.9" cy="621.17" r="2.05"/><circle cx="701.9" cy="729.15" r="2.05"/><circle cx="701.9" cy="730.65" r="2.05"/><circle cx="701.9" cy="732.15" r="2.05"/><circle cx="701.9" cy="733.65" r="2.05"/><circle cx="701.9" cy="735.15" r="2.05"/><circle cx="701.9" cy="747.62" r="2.05"/><circle cx="720.15" cy="628.85" r="2.05"/><circle cx="720.15" cy="627.41" r="2.05"/><circle cx="720.15" cy="625.97" r="2.05"/><circle cx="756.55" cy="660.76" r="2.05"/><circle cx="756.55" cy="660.05" r="2.05"/><circle cx="756.55" cy="658.88" r="2.05"/><circle cx="756.55" cy="657.36" r="2.05"/><circle cx="756.55" cy="655.26" r="2.05"/><circle cx="756.55" cy="653.42" r="2.05"/><circle cx="756.55" cy="650.07" r="2.05"/><circle cx="756.55" cy="646.36" r="2.05"/><circle cx="774.8" cy="642.29" r="2.05"/><circle cx="774.8" cy="731.55" r="2.05"/><circle cx="774.8" cy="732.3" r="2.05"/><circle cx="774.8" cy="733.61" r="2.05"/><circle cx="774.8" cy="735.33" r="2.05"/><circle cx="774.8" cy="736.83" r="2.05"/><circle cx="774.8" cy="739.71" r="2.05"/><circle cx="774.8" cy="742.76" r="2.05"/><circle cx="774.8" cy="745.94" r="2.05"/><circle cx="774.8" cy="753.14" r="2.05"/><circle cx="774.8" cy="758.18" r="2.05"/><circle cx="793.05" cy="645.88" r="2.05"/><circle cx="793.05" cy="644.09" r="2.05"/><circle cx="793.05" cy="642.29" r="2.05"/><circle cx="793.05" cy="640.49" r="2.05"/><circle cx="793.05" cy="638.69" r="2.05"/><circle cx="829.45" cy="671.56" r="2.05"/><circle cx="829.45" cy="670.32" r="2.05"/><circle cx="829.45" cy="668.84" r="2.05"/><circle cx="829.45" cy="667.47" r="2.05"/><circle cx="829.45" cy="665.32" r="2.05"/><circle cx="829.45" cy="662.11" r="2.05"/><circle cx="829.45" cy="660.28" r="2.05"/><circle cx="847.7" cy="656.44" r="2.05"/><circle cx="847.7" cy="654.52" r="2.05"/><circle cx="847.7" cy="652.6" r="2.05"/><circle cx="847.7" cy="650.68" r="2.05"/><circle cx="847.7" cy="732.27" r="2.05"/><circle cx="847.7" cy="733.05" r="2.05"/><circle cx="847.7" cy="734" r="2.05"/><circle cx="847.7" cy="735.42" r="2.05"/><circle cx="847.7" cy="736.56" r="2.05"/><circle cx="847.7" cy="738.53" r="2.05"/><circle cx="847.7" cy="740.96" r="2.05"/><circle cx="847.7" cy="743.34" r="2.05"/><circle cx="847.7" cy="747.14" r="2.05"/><circle cx="847.7" cy="751.46" r="2.05"/><circle cx="847.7" cy="757.22" r="2.05"/><circle cx="865.95" cy="649.96" r="2.05"/><circle cx="865.95" cy="660.28" r="2.05"/><circle cx="865.95" cy="658.6" r="2.05"/><circle cx="865.95" cy="656.92" r="2.05"/><circle cx="865.95" cy="655.24" r="2.05"/><circle cx="865.95" cy="653.56" r="2.05"/></g><g stroke="#333333" stroke-width="0.62"><rect x="529.65" y="619.49" width="16.4" height="42.47" fill="#DE756E"/><rect x="547.9" y="611.33" width="16.4" height="41.27" fill="#68BA46"/><rect x="566.15" y="624.29" width="16.4" height="32.15" fill="#769BF9"/><rect x="602.55" y="656.44" width="16.4" height="27.11" fill="#DE756E"/><rect x="620.8" y="650.44" width="16.4" height="32.63" fill="#68BA46"/><rect x="639.05" y="649.24" width="16.4" height="21.6" fill="#769BF9"/><rect x="675.45" y="668.2" width="16.4" height="20.4" fill="#DE756E"/><rect x="693.7" y="662.68" width="16.4" height="26.87" fill="#68BA46"/><rect x="711.95" y="658.6" width="16.4" height="19.92" fill="#769BF9"/><rect x="748.35" y="679.24" width="16.4" height="12.48" fill="#DE756E"/><rect x="766.6" y="675.64" width="16.4" height="22.08" fill="#68BA46"/><rect x="784.85" y="669.64" width="16.4" height="16.8" fill="#769BF9"/><rect x="821.25" y="683.32" width="16.4" height="8.64" fill="#DE756E"/><rect x="839.5" y="684.76" width="16.4" height="18.96" fill="#68BA46"/><rect x="857.75" y="676.36" width="16.4" height="11.28" fill="#769BF9"/></g><path d="M529.65 640.13H546.05M547.9 631.25H564.3M566.15 639.65H582.55M602.55 670.84H618.95M620.8 667.48H637.2M639.05 659.8H655.45M675.45 679.24H691.85M693.7 676.6H710.1M711.95 668.92H728.35M748.35 685.96H764.75M766.6 687.64H783M784.85 678.52H801.25M821.25 687.88H837.65M839.5 693.4H855.9M857.75 682.12H874.15" stroke="#333333" stroke-width="1.6" fill="none"/></g>
<rect x="904.1" y="442.7" width="377.3" height="34.9" fill="#fff" stroke="#000" stroke-width="2.4"/>
<text transform="translate(1092.75 466.85) rotate(0.03) scale(1 1.04)" font-size="20.65" text-anchor="middle" fill="#1a1a1a">Prague (Czech Republic)</text>
<g clip-path="url(#cA7)"><path d="M928.75 551.58V604.85M928.75 651.4V719.55M947 545.1V598.37M947 638.21V695.55M965.25 563.1V617.57M965.25 663.4V732.75M1001.65 593.58V654.52M1001.65 697.47V760.34M1019.9 594.78V642.77M1019.9 675.64V724.35M1038.15 592.14V655.48M1038.15 702.27V771.14M1074.55 619.25V671.8M1074.55 713.55V775.94M1092.8 616.13V656.68M1092.8 687.64V732.75M1111.05 619.97V672.76M1111.05 714.27V772.34M1147.45 641.33V697.23M1147.45 737.55V775.94M1165.7 637.49V678.76M1165.7 709.47V754.34M1183.95 640.37V696.27M1183.95 734.67V781.94M1220.35 664.36V713.31M1220.35 747.86V775.94M1238.6 657.64V694.84M1238.6 723.39V765.14M1256.85 661.96V712.83M1256.85 746.66V781.94" stroke="#333333" stroke-width="0.75" fill="none"/><g fill="#333333"><circle cx="928.75" cy="720.75" r="2.05"/><circle cx="928.75" cy="721.78" r="2.05"/><circle cx="928.75" cy="722.82" r="2.05"/><circle cx="928.75" cy="723.65" r="2.05"/><circle cx="928.75" cy="725.22" r="2.05"/><circle cx="928.75" cy="726.87" r="2.05"/><circle cx="928.75" cy="728.97" r="2.05"/><circle cx="928.75" cy="730.46" r="2.05"/><circle cx="928.75" cy="732.35" r="2.05"/><circle cx="928.75" cy="734.17" r="2.05"/><circle cx="928.75" cy="737.48" r="2.05"/><circle cx="928.75" cy="740.47" r="2.05"/><circle cx="928.75" cy="743.63" r="2.05"/><circle cx="928.75" cy="748.34" r="2.05"/><circle cx="928.75" cy="758.66" r="2.05"/><circle cx="928.75" cy="763.94" r="2.05"/><circle cx="928.75" cy="765.44" r="2.05"/><circle cx="928.75" cy="766.94" r="2.05"/><circle cx="928.75" cy="768.44" r="2.05"/><circle cx="928.75" cy="769.94" r="2.05"/><circle cx="928.75" cy="775.7" r="2.05"/><circle cx="947" cy="697.95" r="2.05"/><circle cx="947" cy="699.15" r="2.05"/><circle cx="947" cy="700.68" r="2.05"/><circle cx="947" cy="702.29" r="2.05"/><circle cx="947" cy="704.4" r="2.05"/><circle cx="947" cy="707.55" r="2.05"/><circle cx="947" cy="715.47" r="2.05"/><circle cx="947" cy="720.03" r="2.05"/><circle cx="965.25" cy="733.95" r="2.05"/><circle cx="965.25" cy="735.45" r="2.05"/><circle cx="965.25" cy="736.95" r="2.05"/><circle cx="965.25" cy="738.45" r="2.05"/><circle cx="965.25" cy="739.95" r="2.05"/><circle cx="965.25" cy="745.94" r="2.05"/><circle cx="965.25" cy="749.54" r="2.05"/><circle cx="965.25" cy="755.78" r="2.05"/><circle cx="965.25" cy="765.14" r="2.05"/><circle cx="965.25" cy="766.58" r="2.05"/><circle cx="965.25" cy="768.02" r="2.05"/><circle cx="965.25" cy="769.46" r="2.05"/><circle cx="1001.65" cy="761.54" r="2.05"/><circle cx="1001.65" cy="762.54" r="2.05"/><circle cx="1001.65" cy="763.77" r="2.05"/><circle cx="1001.65" cy="764.8" r="2.05"/><circle cx="1001.65" cy="765.98" r="2.05"/><circle cx="1001.65" cy="768.14" r="2.05"/><circle cx="1001.65" cy="770.62" r="2.05"/><circle cx="1001.65" cy="773.17" r="2.05"/><circle cx="1001.65" cy="776.66" r="2.05"/><circle cx="1019.9" cy="593.58" r="2.05"/><circle cx="1019.9" cy="591.18" r="2.05"/><circle cx="1019.9" cy="728.67" r="2.05"/><circle cx="1019.9" cy="730.71" r="2.05"/><circle cx="1019.9" cy="732.75" r="2.05"/><circle cx="1019.9" cy="737.07" r="2.05"/><circle cx="1019.9" cy="748.34" r="2.05"/><circle cx="1019.9" cy="753.14" r="2.05"/><circle cx="1038.15" cy="772.82" r="2.05"/><circle cx="1038.15" cy="774.26" r="2.05"/><circle cx="1038.15" cy="775.7" r="2.05"/><circle cx="1038.15" cy="777.14" r="2.05"/><circle cx="1092.8" cy="736.35" r="2.05"/><circle cx="1092.8" cy="737.38" r="2.05"/><circle cx="1092.8" cy="738.62" r="2.05"/><circle cx="1092.8" cy="739.52" r="2.05"/><circle cx="1092.8" cy="741.13" r="2.05"/><circle cx="1092.8" cy="742.31" r="2.05"/><circle cx="1092.8" cy="744.5" r="2.05"/><circle cx="1092.8" cy="746.66" r="2.05"/><circle cx="1092.8" cy="749.07" r="2.05"/><circle cx="1092.8" cy="752.39" r="2.05"/><circle cx="1092.8" cy="757.41" r="2.05"/><circle cx="1092.8" cy="759.14" r="2.05"/><circle cx="1111.05" cy="779.06" r="2.05"/><circle cx="1165.7" cy="755.54" r="2.05"/><circle cx="1165.7" cy="756.29" r="2.05"/><circle cx="1165.7" cy="757.37" r="2.05"/><circle cx="1165.7" cy="758.45" r="2.05"/><circle cx="1165.7" cy="759.65" r="2.05"/><circle cx="1165.7" cy="761.16" r="2.05"/><circle cx="1165.7" cy="762.89" r="2.05"/><circle cx="1165.7" cy="765.33" r="2.05"/><circle cx="1165.7" cy="768.76" r="2.05"/><circle cx="1165.7" cy="769.94" r="2.05"/><circle cx="1165.7" cy="777.62" r="2.05"/><circle cx="1238.6" cy="766.34" r="2.05"/><circle cx="1238.6" cy="768.14" r="2.05"/><circle cx="1238.6" cy="769.94" r="2.05"/><circle cx="1238.6" cy="771.74" r="2.05"/><circle cx="1238.6" cy="773.54" r="2.05"/><circle cx="1238.6" cy="777.86" r="2.05"/><circle cx="1256.85" cy="646.36" r="2.05"/><circle cx="1256.85" cy="653.8" r="2.05"/><circle cx="1256.85" cy="661.24" r="2.05"/></g><g stroke="#333333" stroke-width="0.62"><rect x="920.55" y="604.85" width="16.4" height="46.55" fill="#DE756E"/><rect x="938.8" y="598.37" width="16.4" height="39.83" fill="#68BA46"/><rect x="957.05" y="617.57" width="16.4" height="45.83" fill="#769BF9"/><rect x="993.45" y="654.52" width="16.4" height="42.95" fill="#DE756E"/><rect x="1011.7" y="642.77" width="16.4" height="32.87" fill="#68BA46"/><rect x="1029.95" y="655.48" width="16.4" height="46.79" fill="#769BF9"/><rect x="1066.35" y="671.8" width="16.4" height="41.75" fill="#DE756E"/><rect x="1084.6" y="656.68" width="16.4" height="30.95" fill="#68BA46"/><rect x="1102.85" y="672.76" width="16.4" height="41.51" fill="#769BF9"/><rect x="1139.25" y="697.23" width="16.4" height="40.31" fill="#DE756E"/><rect x="1157.5" y="678.76" width="16.4" height="30.71" fill="#68BA46"/><rect x="1175.75" y="696.27" width="16.4" height="38.39" fill="#769BF9"/><rect x="1212.15" y="713.31" width="16.4" height="34.55" fill="#DE756E"/><rect x="1230.4" y="694.84" width="16.4" height="28.55" fill="#68BA46"/><rect x="1248.65" y="712.83" width="16.4" height="33.83" fill="#769BF9"/></g><path d="M920.55 626.45H936.95M938.8 617.81H955.2M957.05 636.29H973.45M993.45 674.2H1009.85M1011.7 658.6H1028.1M1029.95 676.84H1046.35M1066.35 691H1082.75M1084.6 671.08H1101M1102.85 692.92H1119.25M1139.25 716.19H1155.65M1157.5 693.16H1173.9M1175.75 716.19H1192.15M1212.15 729.87H1228.55M1230.4 709.23H1246.8M1248.65 729.39H1265.05" stroke="#333333" stroke-width="1.6" fill="none"/></g>
<path d="M901.9 780.2H1283.6" stroke="#000" stroke-width="2.3" fill="none"/>
<rect x="1295" y="442.7" width="377.3" height="34.9" fill="#fff" stroke="#000" stroke-width="2.4"/>
<text transform="translate(1483.65 466.85) rotate(0.03) scale(1 1.04)" font-size="20.65" text-anchor="middle" fill="#1a1a1a">Rome (Italy)</text>
<g clip-path="url(#cA8)"><path d="M1319.65 559.02V614.69M1319.65 660.76V727.95M1337.9 554.22V604.37M1337.9 643.97V702.27M1356.15 568.14V635.57M1356.15 689.32V769.94M1392.55 608.45V659.8M1392.55 700.59V752.66M1410.8 594.78V650.44M1410.8 689.32V747.14M1429.05 612.05V669.16M1429.05 716.19V781.94M1465.45 632.45V675.4M1465.45 715.47V752.9M1483.7 620.93V666.76M1483.7 701.31V751.94M1501.95 633.17V683.08M1501.95 731.55V781.94M1538.35 651.16V696.51M1538.35 726.75V752.66M1556.6 646.36V689.56M1556.6 721.47V767.54M1574.85 644.45V705.63M1574.85 746.66V781.94M1611.25 670.36V707.79M1611.25 734.43V752.66M1629.5 665.32V704.91M1629.5 736.11V781.94M1647.75 664.6V722.43M1647.75 761.78V781.94" stroke="#333333" stroke-width="0.75" fill="none"/><g fill="#333333"><circle cx="1319.65" cy="729.15" r="2.05"/><circle cx="1319.65" cy="730.26" r="2.05"/><circle cx="1319.65" cy="731.17" r="2.05"/><circle cx="1319.65" cy="732.33" r="2.05"/><circle cx="1319.65" cy="733.38" r="2.05"/><circle cx="1319.65" cy="734.71" r="2.05"/><circle cx="1319.65" cy="735.9" r="2.05"/><circle cx="1319.65" cy="737.5" r="2.05"/><circle cx="1319.65" cy="739.05" r="2.05"/><circle cx="1319.65" cy="741.87" r="2.05"/><circle cx="1319.65" cy="745.03" r="2.05"/><circle cx="1319.65" cy="748.09" r="2.05"/><circle cx="1319.65" cy="753.14" r="2.05"/><circle cx="1337.9" cy="703.95" r="2.05"/><circle cx="1337.9" cy="705.16" r="2.05"/><circle cx="1337.9" cy="706.06" r="2.05"/><circle cx="1337.9" cy="707.73" r="2.05"/><circle cx="1337.9" cy="709.56" r="2.05"/><circle cx="1337.9" cy="712.08" r="2.05"/><circle cx="1337.9" cy="716.31" r="2.05"/><circle cx="1337.9" cy="717.15" r="2.05"/><circle cx="1337.9" cy="721.95" r="2.05"/><circle cx="1337.9" cy="734.19" r="2.05"/><circle cx="1356.15" cy="773.54" r="2.05"/><circle cx="1356.15" cy="775.04" r="2.05"/><circle cx="1356.15" cy="776.54" r="2.05"/><circle cx="1356.15" cy="778.04" r="2.05"/><circle cx="1356.15" cy="779.54" r="2.05"/><circle cx="1410.8" cy="591.18" r="2.05"/><circle cx="1410.8" cy="749.54" r="2.05"/><circle cx="1410.8" cy="754.34" r="2.05"/><circle cx="1410.8" cy="762.5" r="2.05"/><circle cx="1410.8" cy="775.22" r="2.05"/><circle cx="1483.7" cy="753.14" r="2.05"/><circle cx="1483.7" cy="754.11" r="2.05"/><circle cx="1483.7" cy="755.38" r="2.05"/><circle cx="1483.7" cy="757.31" r="2.05"/><circle cx="1483.7" cy="759.28" r="2.05"/><circle cx="1483.7" cy="762.83" r="2.05"/><circle cx="1483.7" cy="765.14" r="2.05"/><circle cx="1483.7" cy="768.74" r="2.05"/><circle cx="1556.6" cy="637.01" r="2.05"/><circle cx="1556.6" cy="641.33" r="2.05"/><circle cx="1556.6" cy="768.74" r="2.05"/><circle cx="1556.6" cy="769.78" r="2.05"/><circle cx="1556.6" cy="770.9" r="2.05"/><circle cx="1556.6" cy="772.31" r="2.05"/><circle cx="1556.6" cy="773.85" r="2.05"/><circle cx="1556.6" cy="776" r="2.05"/><circle cx="1556.6" cy="779.54" r="2.05"/><circle cx="1611.25" cy="664.36" r="2.05"/><circle cx="1611.25" cy="661.96" r="2.05"/></g><g stroke="#333333" stroke-width="0.62"><rect x="1311.45" y="614.69" width="16.4" height="46.07" fill="#DE756E"/><rect x="1329.7" y="604.37" width="16.4" height="39.59" fill="#68BA46"/><rect x="1347.95" y="635.57" width="16.4" height="53.75" fill="#769BF9"/><rect x="1384.35" y="659.8" width="16.4" height="40.79" fill="#DE756E"/><rect x="1402.6" y="650.44" width="16.4" height="38.87" fill="#68BA46"/><rect x="1420.85" y="669.16" width="16.4" height="47.03" fill="#769BF9"/><rect x="1457.25" y="675.4" width="16.4" height="40.07" fill="#DE756E"/><rect x="1475.5" y="666.76" width="16.4" height="34.55" fill="#68BA46"/><rect x="1493.75" y="683.08" width="16.4" height="48.47" fill="#769BF9"/><rect x="1530.15" y="696.51" width="16.4" height="30.23" fill="#DE756E"/><rect x="1548.4" y="689.56" width="16.4" height="31.91" fill="#68BA46"/><rect x="1566.65" y="705.63" width="16.4" height="41.03" fill="#769BF9"/><rect x="1603.05" y="707.79" width="16.4" height="26.63" fill="#DE756E"/><rect x="1621.3" y="704.91" width="16.4" height="31.19" fill="#68BA46"/><rect x="1639.55" y="722.43" width="16.4" height="39.35" fill="#769BF9"/></g><path d="M1311.45 636.53H1327.85M1329.7 623.09H1346.1M1347.95 660.04H1364.35M1384.35 679.24H1400.75M1402.6 669.16H1419M1420.85 690.04H1437.25M1457.25 694.6H1473.65M1475.5 682.12H1491.9M1493.75 705.15H1510.15M1530.15 711.63H1546.55M1548.4 704.91H1564.8M1566.65 725.07H1583.05M1603.05 721.71H1619.45M1621.3 720.27H1637.7M1639.55 740.67H1655.95" stroke="#333333" stroke-width="1.6" fill="none"/></g>
<path d="M1292.8 780.2H1674.5" stroke="#000" stroke-width="2.3" fill="none"/>
<rect x="122.3" y="793.25" width="377.3" height="34.9" fill="#fff" stroke="#000" stroke-width="2.4"/>
<text transform="translate(310.95 817.4) rotate(0.03) scale(1 1.04)" font-size="20.65" text-anchor="middle" fill="#1a1a1a">Siena (Italy)</text>
<g clip-path="url(#cA9)"><path d="M146.95 931.38V958.49M146.95 976.97V1002.16M165.2 904.98V959.69M165.2 995.93V1051.35M183.45 906.18V962.33M183.45 1005.52V1070.55M219.85 964.97V974.09M219.85 982.01V991.37M238.1 956.09V997.6M238.1 1027.36V1070.55M256.35 963.05V1001.44M256.35 1031.44V1075.35M292.75 972.17V977.45M292.75 982.49V987.77M311 974.57V1014.16M311 1040.56V1080.15M329.25 974.09V1012.48M329.25 1040.8V1082.55M365.65 976.97V979.37M365.65 982.49V985.37M383.9 993.77V1032.88M383.9 1058.79V1096.94M402.15 994.01V1027.6M402.15 1055.43V1096.94M438.55 978.17V980.33M438.55 982.25V984.17M456.8 1005.28V1043.68M456.8 1070.55V1110.14M475.05 1008.16V1040.56M475.05 1063.59V1095.75" stroke="#333333" stroke-width="0.75" fill="none"/><g fill="#333333"><circle cx="146.95" cy="911.7" r="2.05"/><circle cx="146.95" cy="915.78" r="2.05"/><circle cx="146.95" cy="918.18" r="2.05"/><circle cx="146.95" cy="930.18" r="2.05"/><circle cx="146.95" cy="929.08" r="2.05"/><circle cx="146.95" cy="927.97" r="2.05"/><circle cx="146.95" cy="926.53" r="2.05"/><circle cx="146.95" cy="924.59" r="2.05"/><circle cx="146.95" cy="921.78" r="2.05"/><circle cx="146.95" cy="1005.76" r="2.05"/><circle cx="165.2" cy="903.78" r="2.05"/><circle cx="165.2" cy="902.28" r="2.05"/><circle cx="165.2" cy="900.78" r="2.05"/><circle cx="165.2" cy="899.28" r="2.05"/><circle cx="165.2" cy="897.78" r="2.05"/><circle cx="165.2" cy="1053.75" r="2.05"/><circle cx="165.2" cy="1056.15" r="2.05"/><circle cx="165.2" cy="1060.95" r="2.05"/><circle cx="165.2" cy="1069.59" r="2.05"/><circle cx="165.2" cy="1072.95" r="2.05"/><circle cx="165.2" cy="1075.35" r="2.05"/><circle cx="165.2" cy="1105.58" r="2.05"/><circle cx="183.45" cy="1071.75" r="2.05"/><circle cx="183.45" cy="1072.92" r="2.05"/><circle cx="183.45" cy="1074.28" r="2.05"/><circle cx="183.45" cy="1075.74" r="2.05"/><circle cx="183.45" cy="1077.67" r="2.05"/><circle cx="183.45" cy="1080.43" r="2.05"/><circle cx="183.45" cy="1082.55" r="2.05"/><circle cx="183.45" cy="1087.35" r="2.05"/><circle cx="183.45" cy="1089.15" r="2.05"/><circle cx="183.45" cy="1090.95" r="2.05"/><circle cx="219.85" cy="963.77" r="2.05"/><circle cx="219.85" cy="963.01" r="2.05"/><circle cx="219.85" cy="961.97" r="2.05"/><circle cx="219.85" cy="960.83" r="2.05"/><circle cx="219.85" cy="958.74" r="2.05"/><circle cx="219.85" cy="955.75" r="2.05"/><circle cx="219.85" cy="952.17" r="2.05"/><circle cx="219.85" cy="950.57" r="2.05"/><circle cx="219.85" cy="993.29" r="2.05"/><circle cx="219.85" cy="994.73" r="2.05"/><circle cx="219.85" cy="996.16" r="2.05"/><circle cx="238.1" cy="1071.75" r="2.05"/><circle cx="238.1" cy="1072.98" r="2.05"/><circle cx="238.1" cy="1074.02" r="2.05"/><circle cx="238.1" cy="1075.34" r="2.05"/><circle cx="238.1" cy="1076.64" r="2.05"/><circle cx="238.1" cy="1078.75" r="2.05"/><circle cx="238.1" cy="1081.77" r="2.05"/><circle cx="238.1" cy="1084.95" r="2.05"/><circle cx="238.1" cy="1088.55" r="2.05"/><circle cx="238.1" cy="1096.46" r="2.05"/><circle cx="238.1" cy="1097.9" r="2.05"/><circle cx="238.1" cy="1099.34" r="2.05"/><circle cx="238.1" cy="1106.78" r="2.05"/><circle cx="256.35" cy="1076.55" r="2.05"/><circle cx="256.35" cy="1077.34" r="2.05"/><circle cx="256.35" cy="1078.35" r="2.05"/><circle cx="256.35" cy="1079.12" r="2.05"/><circle cx="256.35" cy="1080.13" r="2.05"/><circle cx="256.35" cy="1081.11" r="2.05"/><circle cx="256.35" cy="1082.44" r="2.05"/><circle cx="256.35" cy="1083.61" r="2.05"/><circle cx="256.35" cy="1084.87" r="2.05"/><circle cx="256.35" cy="1086.61" r="2.05"/><circle cx="256.35" cy="1088.51" r="2.05"/><circle cx="256.35" cy="1091.22" r="2.05"/><circle cx="256.35" cy="1094.34" r="2.05"/><circle cx="256.35" cy="1098.56" r="2.05"/><circle cx="256.35" cy="1104.14" r="2.05"/><circle cx="292.75" cy="958.97" r="2.05"/><circle cx="292.75" cy="957.53" r="2.05"/><circle cx="292.75" cy="956.09" r="2.05"/><circle cx="292.75" cy="970.97" r="2.05"/><circle cx="292.75" cy="969.17" r="2.05"/><circle cx="292.75" cy="967.37" r="2.05"/><circle cx="292.75" cy="965.57" r="2.05"/><circle cx="292.75" cy="963.77" r="2.05"/><circle cx="292.75" cy="991.13" r="2.05"/><circle cx="311" cy="964.97" r="2.05"/><circle cx="311" cy="969.77" r="2.05"/><circle cx="311" cy="1081.35" r="2.05"/><circle cx="311" cy="1082.43" r="2.05"/><circle cx="311" cy="1083.78" r="2.05"/><circle cx="311" cy="1085.04" r="2.05"/><circle cx="311" cy="1086.5" r="2.05"/><circle cx="311" cy="1089.07" r="2.05"/><circle cx="311" cy="1091.2" r="2.05"/><circle cx="311" cy="1095.01" r="2.05"/><circle cx="311" cy="1098.14" r="2.05"/><circle cx="311" cy="1105.34" r="2.05"/><circle cx="311" cy="1118.78" r="2.05"/><circle cx="329.25" cy="1083.75" r="2.05"/><circle cx="329.25" cy="1084.44" r="2.05"/><circle cx="329.25" cy="1085.69" r="2.05"/><circle cx="329.25" cy="1087.23" r="2.05"/><circle cx="329.25" cy="1088.94" r="2.05"/><circle cx="329.25" cy="1091.22" r="2.05"/><circle cx="329.25" cy="1094.35" r="2.05"/><circle cx="329.25" cy="1097.16" r="2.05"/><circle cx="329.25" cy="1100.54" r="2.05"/><circle cx="329.25" cy="1104.14" r="2.05"/><circle cx="329.25" cy="1106.18" r="2.05"/><circle cx="329.25" cy="1108.22" r="2.05"/><circle cx="365.65" cy="967.85" r="2.05"/><circle cx="365.65" cy="975.77" r="2.05"/><circle cx="365.65" cy="973.97" r="2.05"/><circle cx="365.65" cy="972.17" r="2.05"/><circle cx="365.65" cy="987.77" r="2.05"/><circle cx="383.9" cy="991.85" r="2.05"/><circle cx="383.9" cy="990.17" r="2.05"/><circle cx="383.9" cy="1098.14" r="2.05"/><circle cx="383.9" cy="1099.11" r="2.05"/><circle cx="383.9" cy="1100.55" r="2.05"/><circle cx="383.9" cy="1102.62" r="2.05"/><circle cx="383.9" cy="1105.9" r="2.05"/><circle cx="383.9" cy="1107.74" r="2.05"/><circle cx="383.9" cy="1111.34" r="2.05"/><circle cx="383.9" cy="1119.74" r="2.05"/><circle cx="383.9" cy="1121.24" r="2.05"/><circle cx="383.9" cy="1122.74" r="2.05"/><circle cx="383.9" cy="1124.24" r="2.05"/><circle cx="383.9" cy="1125.74" r="2.05"/><circle cx="402.15" cy="1099.34" r="2.05"/><circle cx="402.15" cy="1100.53" r="2.05"/><circle cx="402.15" cy="1101.68" r="2.05"/><circle cx="402.15" cy="1102.94" r="2.05"/><circle cx="402.15" cy="1104" r="2.05"/><circle cx="402.15" cy="1105" r="2.05"/><circle cx="402.15" cy="1106.17" r="2.05"/><circle cx="402.15" cy="1107.69" r="2.05"/><circle cx="402.15" cy="1109.12" r="2.05"/><circle cx="402.15" cy="1111.62" r="2.05"/><circle cx="402.15" cy="1114.16" r="2.05"/><circle cx="402.15" cy="1117.26" r="2.05"/><circle cx="402.15" cy="1120.94" r="2.05"/><circle cx="402.15" cy="1125.47" r="2.05"/><circle cx="402.15" cy="1129.34" r="2.05"/><circle cx="438.55" cy="976.97" r="2.05"/><circle cx="438.55" cy="975.53" r="2.05"/><circle cx="438.55" cy="974.09" r="2.05"/><circle cx="438.55" cy="972.65" r="2.05"/><circle cx="438.55" cy="986.57" r="2.05"/><circle cx="456.8" cy="991.37" r="2.05"/><circle cx="456.8" cy="989.69" r="2.05"/><circle cx="456.8" cy="999.76" r="2.05"/><circle cx="456.8" cy="1111.34" r="2.05"/><circle cx="456.8" cy="1112.02" r="2.05"/><circle cx="456.8" cy="1113.25" r="2.05"/><circle cx="456.8" cy="1114.75" r="2.05"/><circle cx="456.8" cy="1116.46" r="2.05"/><circle cx="456.8" cy="1118.71" r="2.05"/><circle cx="456.8" cy="1121.97" r="2.05"/><circle cx="456.8" cy="1125.74" r="2.05"/><circle cx="475.05" cy="1000" r="2.05"/><circle cx="475.05" cy="1101.02" r="2.05"/><circle cx="475.05" cy="1107.74" r="2.05"/><circle cx="475.05" cy="1108.84" r="2.05"/><circle cx="475.05" cy="1109.8" r="2.05"/><circle cx="475.05" cy="1110.8" r="2.05"/><circle cx="475.05" cy="1112.17" r="2.05"/><circle cx="475.05" cy="1114.45" r="2.05"/><circle cx="475.05" cy="1116.7" r="2.05"/><circle cx="475.05" cy="1120.76" r="2.05"/><circle cx="475.05" cy="1122.14" r="2.05"/></g><g stroke="#333333" stroke-width="0.62"><rect x="138.75" y="958.49" width="16.4" height="18.48" fill="#DE756E"/><rect x="157" y="959.69" width="16.4" height="36.23" fill="#68BA46"/><rect x="175.25" y="962.33" width="16.4" height="43.19" fill="#769BF9"/><rect x="211.65" y="974.09" width="16.4" height="7.92" fill="#DE756E"/><rect x="229.9" y="997.6" width="16.4" height="29.75" fill="#68BA46"/><rect x="248.15" y="1001.44" width="16.4" height="29.99" fill="#769BF9"/><rect x="284.55" y="977.45" width="16.4" height="5.04" fill="#DE756E"/><rect x="302.8" y="1014.16" width="16.4" height="26.39" fill="#68BA46"/><rect x="321.05" y="1012.48" width="16.4" height="28.31" fill="#769BF9"/><rect x="357.45" y="979.37" width="16.4" height="3.12" fill="#DE756E"/><rect x="375.7" y="1032.88" width="16.4" height="25.91" fill="#68BA46"/><rect x="393.95" y="1027.6" width="16.4" height="27.83" fill="#769BF9"/><rect x="430.35" y="980.33" width="16.4" height="1.92" fill="#DE756E"/><rect x="448.6" y="1043.68" width="16.4" height="26.87" fill="#68BA46"/><rect x="466.85" y="1040.56" width="16.4" height="23.04" fill="#769BF9"/></g><path d="M138.75 967.85H155.15M157 978.65H173.4M175.25 983.69H191.65M211.65 978.41H228.05M229.9 1012.24H246.3M248.15 1015.12H264.55M284.55 979.85H300.95M302.8 1026.88H319.2M321.05 1025.2H337.45M357.45 981.05H373.85M375.7 1045.6H392.1M393.95 1040.32H410.35M430.35 981.29H446.75M448.6 1056.63H465M466.85 1051.83H483.25" stroke="#333333" stroke-width="1.6" fill="none"/></g>
<text transform="translate(103 851.45) rotate(0.03) scale(1 1.05)" font-size="24.8" text-anchor="end" stroke="#000" stroke-width="0.25">0.0</text>
<text transform="translate(103 919.95) rotate(0.03) scale(1 1.05)" font-size="24.8" text-anchor="end" stroke="#000" stroke-width="0.25">−2.5</text>
<text transform="translate(103 988.45) rotate(0.03) scale(1 1.05)" font-size="24.8" text-anchor="end" stroke="#000" stroke-width="0.25">−5.0</text>
<text transform="translate(103 1056.95) rotate(0.03) scale(1 1.05)" font-size="24.8" text-anchor="end" stroke="#000" stroke-width="0.25">−7.5</text>
<text transform="translate(103 1125.45) rotate(0.03) scale(1 1.05)" font-size="24.8" text-anchor="end" stroke="#000" stroke-width="0.25">−10.0</text>
<path d="M121.45 828.35V1131.9M115 843.05H121.45M115 911.55H121.45M115 980.05H121.45M115 1048.55H121.45M115 1117.05H121.45M120.3 1130.75H501.8" stroke="#000" stroke-width="2.3" fill="none"/>
<rect x="513.2" y="793.25" width="377.3" height="34.9" fill="#fff" stroke="#000" stroke-width="2.4"/>
<text transform="translate(701.85 817.4) rotate(0.03) scale(1 1.04)" font-size="20.65" text-anchor="middle" fill="#1a1a1a">Stockholm (Sweden)</text>
<g clip-path="url(#cA10)"><path d="M537.85 903.06V962.81M537.85 1007.44V1074.15M556.1 903.06V955.37M556.1 996.64V1059.75M574.35 921.06V982.49M574.35 1031.2V1102.94M610.75 957.53V1008.16M610.75 1049.43V1094.79M629 943.14V998.32M629 1037.44V1096.46M647.25 960.41V1014.4M647.25 1056.63V1118.54M683.65 974.57V1026.16M683.65 1062.15V1095.03M701.9 964.97V1014.4M701.9 1049.19V1100.54M720.15 968.57V1031.44M720.15 1071.99V1132.94M756.55 1004.08V1044.4M756.55 1075.11V1095.03M774.8 992.09V1033.6M774.8 1066.47V1117.34M793.05 994.25V1050.63M793.05 1089.03V1132.94M829.45 1017.76V1055.43M829.45 1080.63V1095.03M847.7 1009.6V1049.43M847.7 1081.59V1132.94M865.95 1016.56V1067.67M865.95 1103.66V1132.94" stroke="#333333" stroke-width="0.75" fill="none"/><g fill="#333333"><circle cx="537.85" cy="1075.35" r="2.05"/><circle cx="537.85" cy="1076.31" r="2.05"/><circle cx="537.85" cy="1077.28" r="2.05"/><circle cx="537.85" cy="1078.45" r="2.05"/><circle cx="537.85" cy="1079.98" r="2.05"/><circle cx="537.85" cy="1081.9" r="2.05"/><circle cx="537.85" cy="1084.1" r="2.05"/><circle cx="537.85" cy="1086.88" r="2.05"/><circle cx="537.85" cy="1089.3" r="2.05"/><circle cx="537.85" cy="1092.36" r="2.05"/><circle cx="537.85" cy="1095.75" r="2.05"/><circle cx="556.1" cy="1060.95" r="2.05"/><circle cx="556.1" cy="1062.05" r="2.05"/><circle cx="556.1" cy="1063.05" r="2.05"/><circle cx="556.1" cy="1064.46" r="2.05"/><circle cx="556.1" cy="1065.68" r="2.05"/><circle cx="556.1" cy="1067.21" r="2.05"/><circle cx="556.1" cy="1069.44" r="2.05"/><circle cx="556.1" cy="1073.16" r="2.05"/><circle cx="556.1" cy="1075.35" r="2.05"/><circle cx="556.1" cy="1083.75" r="2.05"/><circle cx="556.1" cy="1085.35" r="2.05"/><circle cx="556.1" cy="1086.95" r="2.05"/><circle cx="556.1" cy="1088.55" r="2.05"/><circle cx="556.1" cy="1102.94" r="2.05"/><circle cx="556.1" cy="1104.38" r="2.05"/><circle cx="556.1" cy="1105.82" r="2.05"/><circle cx="574.35" cy="1106.06" r="2.05"/><circle cx="574.35" cy="1112.06" r="2.05"/><circle cx="574.35" cy="1120.94" r="2.05"/><circle cx="574.35" cy="1122" r="2.05"/><circle cx="574.35" cy="1123.13" r="2.05"/><circle cx="574.35" cy="1124.94" r="2.05"/><circle cx="574.35" cy="1127.67" r="2.05"/><circle cx="574.35" cy="1129.34" r="2.05"/><circle cx="629" cy="1098.14" r="2.05"/><circle cx="629" cy="1098.88" r="2.05"/><circle cx="629" cy="1100.28" r="2.05"/><circle cx="629" cy="1101.63" r="2.05"/><circle cx="629" cy="1104.52" r="2.05"/><circle cx="629" cy="1107.74" r="2.05"/><circle cx="629" cy="1113.5" r="2.05"/><circle cx="647.25" cy="1120.94" r="2.05"/><circle cx="647.25" cy="1121.62" r="2.05"/><circle cx="647.25" cy="1122.74" r="2.05"/><circle cx="647.25" cy="1124.65" r="2.05"/><circle cx="647.25" cy="1128.01" r="2.05"/><circle cx="647.25" cy="1129.34" r="2.05"/><circle cx="683.65" cy="971.45" r="2.05"/><circle cx="701.9" cy="960.89" r="2.05"/><circle cx="701.9" cy="1101.74" r="2.05"/><circle cx="701.9" cy="1102.57" r="2.05"/><circle cx="701.9" cy="1103.49" r="2.05"/><circle cx="701.9" cy="1105.2" r="2.05"/><circle cx="701.9" cy="1106.78" r="2.05"/><circle cx="701.9" cy="1109.41" r="2.05"/><circle cx="701.9" cy="1112.27" r="2.05"/><circle cx="701.9" cy="1113.74" r="2.05"/><circle cx="701.9" cy="1119.02" r="2.05"/><circle cx="701.9" cy="1125.74" r="2.05"/><circle cx="701.9" cy="1127.54" r="2.05"/><circle cx="701.9" cy="1129.34" r="2.05"/><circle cx="720.15" cy="962.81" r="2.05"/><circle cx="720.15" cy="967.13" r="2.05"/><circle cx="774.8" cy="1118.54" r="2.05"/><circle cx="774.8" cy="1120.14" r="2.05"/><circle cx="774.8" cy="1121.74" r="2.05"/><circle cx="774.8" cy="1123.34" r="2.05"/><circle cx="774.8" cy="1128.14" r="2.05"/><circle cx="829.45" cy="1015.84" r="2.05"/><circle cx="829.45" cy="1014.4" r="2.05"/><circle cx="829.45" cy="1012.96" r="2.05"/><circle cx="847.7" cy="1131.02" r="2.05"/><circle cx="865.95" cy="1013.44" r="2.05"/></g><g stroke="#333333" stroke-width="0.62"><rect x="529.65" y="962.81" width="16.4" height="44.63" fill="#DE756E"/><rect x="547.9" y="955.37" width="16.4" height="41.27" fill="#68BA46"/><rect x="566.15" y="982.49" width="16.4" height="48.71" fill="#769BF9"/><rect x="602.55" y="1008.16" width="16.4" height="41.27" fill="#DE756E"/><rect x="620.8" y="998.32" width="16.4" height="39.11" fill="#68BA46"/><rect x="639.05" y="1014.4" width="16.4" height="42.23" fill="#769BF9"/><rect x="675.45" y="1026.16" width="16.4" height="35.99" fill="#DE756E"/><rect x="693.7" y="1014.4" width="16.4" height="34.79" fill="#68BA46"/><rect x="711.95" y="1031.44" width="16.4" height="40.55" fill="#769BF9"/><rect x="748.35" y="1044.4" width="16.4" height="30.71" fill="#DE756E"/><rect x="766.6" y="1033.6" width="16.4" height="32.87" fill="#68BA46"/><rect x="784.85" y="1050.63" width="16.4" height="38.39" fill="#769BF9"/><rect x="821.25" y="1055.43" width="16.4" height="25.19" fill="#DE756E"/><rect x="839.5" y="1049.43" width="16.4" height="32.15" fill="#68BA46"/><rect x="857.75" y="1067.67" width="16.4" height="35.99" fill="#769BF9"/></g><path d="M529.65 982.25H546.05M547.9 973.85H564.3M566.15 1005.04H582.55M602.55 1027.84H618.95M620.8 1017.52H637.2M639.05 1033.84H655.45M675.45 1044.88H691.85M693.7 1030.72H710.1M711.95 1050.63H728.35M748.35 1059.27H764.75M766.6 1049.67H783M784.85 1067.67H801.25M821.25 1069.35H837.65M839.5 1063.83H855.9M857.75 1084.47H874.15" stroke="#333333" stroke-width="1.6" fill="none"/></g>
<path d="M511 1130.75H892.7" stroke="#000" stroke-width="2.3" fill="none"/>
<rect x="122.3" y="1155.15" width="377.3" height="34.9" fill="#fff" stroke="#000" stroke-width="2.4"/>
<text transform="translate(310.95 1179.3) rotate(0.03) scale(1 1.04)" font-size="20.65" text-anchor="middle" fill="#1a1a1a">Cagliary (Italy)</text>
<g clip-path="url(#cB1)"><path d="M146.95 1263.38V1316.65M146.95 1354.57V1410.95M165.2 1263.38V1308.25M165.2 1342.09V1392.24M183.45 1274.18V1309.21M183.45 1343.05V1392.96M219.85 1310.17V1351.93M219.85 1383.36V1416.71M238.1 1305.86V1347.61M238.1 1374.96V1415.75M256.35 1307.06V1341.61M256.35 1367.28V1405.68M292.75 1325.05V1362.24M292.75 1387.68V1416.71M311 1324.57V1359.84M311 1384.32V1421.75M329.25 1320.25V1351.45M329.25 1373.04V1404.96M365.65 1348.09V1372.56M365.65 1390.56V1416.71M383.9 1347.37V1378.56M383.9 1401.36V1434.95M402.15 1343.05V1363.2M402.15 1380.48V1406.16M438.55 1358.16V1377.36M438.55 1391.28V1412.15M456.8 1357.69V1393.68M456.8 1418.39V1455.35M475.05 1351.45V1370.64M475.05 1384.32V1404.24" stroke="#333333" stroke-width="0.75" fill="none"/><g fill="#333333"><circle cx="146.95" cy="1412.15" r="2.05"/><circle cx="146.95" cy="1414.19" r="2.05"/><circle cx="146.95" cy="1416.23" r="2.05"/><circle cx="165.2" cy="1394.16" r="2.05"/><circle cx="165.2" cy="1395.96" r="2.05"/><circle cx="165.2" cy="1397.76" r="2.05"/><circle cx="165.2" cy="1399.56" r="2.05"/><circle cx="165.2" cy="1401.36" r="2.05"/><circle cx="183.45" cy="1394.16" r="2.05"/><circle cx="183.45" cy="1395.38" r="2.05"/><circle cx="183.45" cy="1396.3" r="2.05"/><circle cx="183.45" cy="1397.98" r="2.05"/><circle cx="183.45" cy="1399.9" r="2.05"/><circle cx="183.45" cy="1403.09" r="2.05"/><circle cx="183.45" cy="1407.36" r="2.05"/><circle cx="183.45" cy="1414.07" r="2.05"/><circle cx="238.1" cy="1301.06" r="2.05"/><circle cx="238.1" cy="1299.26" r="2.05"/><circle cx="238.1" cy="1297.46" r="2.05"/><circle cx="238.1" cy="1295.66" r="2.05"/><circle cx="238.1" cy="1293.86" r="2.05"/><circle cx="238.1" cy="1416.95" r="2.05"/><circle cx="238.1" cy="1417.76" r="2.05"/><circle cx="238.1" cy="1419.18" r="2.05"/><circle cx="238.1" cy="1420.85" r="2.05"/><circle cx="238.1" cy="1422.6" r="2.05"/><circle cx="238.1" cy="1424.96" r="2.05"/><circle cx="238.1" cy="1426.55" r="2.05"/><circle cx="256.35" cy="1406.88" r="2.05"/><circle cx="256.35" cy="1407.81" r="2.05"/><circle cx="256.35" cy="1408.86" r="2.05"/><circle cx="256.35" cy="1410.12" r="2.05"/><circle cx="256.35" cy="1412.09" r="2.05"/><circle cx="256.35" cy="1414.93" r="2.05"/><circle cx="256.35" cy="1416.23" r="2.05"/><circle cx="311" cy="1310.89" r="2.05"/><circle cx="311" cy="1320.49" r="2.05"/><circle cx="311" cy="1422.95" r="2.05"/><circle cx="311" cy="1424.45" r="2.05"/><circle cx="311" cy="1425.95" r="2.05"/><circle cx="311" cy="1427.45" r="2.05"/><circle cx="311" cy="1428.95" r="2.05"/><circle cx="329.25" cy="1313.77" r="2.05"/><circle cx="329.25" cy="1317.37" r="2.05"/><circle cx="329.25" cy="1406.16" r="2.05"/><circle cx="329.25" cy="1407.66" r="2.05"/><circle cx="329.25" cy="1409.15" r="2.05"/><circle cx="329.25" cy="1410.65" r="2.05"/><circle cx="329.25" cy="1412.15" r="2.05"/><circle cx="329.25" cy="1416.23" r="2.05"/><circle cx="383.9" cy="1332.25" r="2.05"/><circle cx="383.9" cy="1341.61" r="2.05"/><circle cx="383.9" cy="1436.15" r="2.05"/><circle cx="383.9" cy="1436.82" r="2.05"/><circle cx="383.9" cy="1437.99" r="2.05"/><circle cx="383.9" cy="1439.38" r="2.05"/><circle cx="383.9" cy="1440.43" r="2.05"/><circle cx="383.9" cy="1442.37" r="2.05"/><circle cx="383.9" cy="1444.53" r="2.05"/><circle cx="383.9" cy="1447.46" r="2.05"/><circle cx="383.9" cy="1450.11" r="2.05"/><circle cx="383.9" cy="1453.5" r="2.05"/><circle cx="383.9" cy="1457.75" r="2.05"/><circle cx="383.9" cy="1467.58" r="2.05"/><circle cx="402.15" cy="1332.73" r="2.05"/><circle cx="402.15" cy="1407.36" r="2.05"/><circle cx="402.15" cy="1409.19" r="2.05"/><circle cx="402.15" cy="1411.03" r="2.05"/><circle cx="402.15" cy="1412.87" r="2.05"/><circle cx="438.55" cy="1356.25" r="2.05"/><circle cx="438.55" cy="1354.73" r="2.05"/><circle cx="438.55" cy="1353.21" r="2.05"/><circle cx="438.55" cy="1351.69" r="2.05"/><circle cx="438.55" cy="1413.35" r="2.05"/><circle cx="438.55" cy="1415.75" r="2.05"/><circle cx="456.8" cy="1355.53" r="2.05"/><circle cx="456.8" cy="1456.55" r="2.05"/><circle cx="456.8" cy="1457.79" r="2.05"/><circle cx="456.8" cy="1458.99" r="2.05"/><circle cx="456.8" cy="1460.27" r="2.05"/><circle cx="456.8" cy="1461.9" r="2.05"/><circle cx="456.8" cy="1463.76" r="2.05"/><circle cx="456.8" cy="1465.75" r="2.05"/><circle cx="456.8" cy="1468.32" r="2.05"/><circle cx="456.8" cy="1472.14" r="2.05"/><circle cx="475.05" cy="1405.44" r="2.05"/><circle cx="475.05" cy="1407.12" r="2.05"/><circle cx="475.05" cy="1408.79" r="2.05"/><circle cx="475.05" cy="1410.47" r="2.05"/><circle cx="475.05" cy="1412.15" r="2.05"/></g><g stroke="#333333" stroke-width="0.62"><rect x="138.75" y="1316.65" width="16.4" height="37.91" fill="#DE756E"/><rect x="157" y="1308.25" width="16.4" height="33.83" fill="#68BA46"/><rect x="175.25" y="1309.21" width="16.4" height="33.83" fill="#769BF9"/><rect x="211.65" y="1351.93" width="16.4" height="31.43" fill="#DE756E"/><rect x="229.9" y="1347.61" width="16.4" height="27.35" fill="#68BA46"/><rect x="248.15" y="1341.61" width="16.4" height="25.67" fill="#769BF9"/><rect x="284.55" y="1362.24" width="16.4" height="25.43" fill="#DE756E"/><rect x="302.8" y="1359.84" width="16.4" height="24.48" fill="#68BA46"/><rect x="321.05" y="1351.45" width="16.4" height="21.6" fill="#769BF9"/><rect x="357.45" y="1372.56" width="16.4" height="18" fill="#DE756E"/><rect x="375.7" y="1378.56" width="16.4" height="22.8" fill="#68BA46"/><rect x="393.95" y="1363.2" width="16.4" height="17.28" fill="#769BF9"/><rect x="430.35" y="1377.36" width="16.4" height="13.92" fill="#DE756E"/><rect x="448.6" y="1393.68" width="16.4" height="24.72" fill="#68BA46"/><rect x="466.85" y="1370.64" width="16.4" height="13.68" fill="#769BF9"/></g><path d="M138.75 1333.69H155.15M157 1323.85H173.4M175.25 1325.05H191.65M211.65 1366.8H228.05M229.9 1360.8H246.3M248.15 1354.09H264.55M284.55 1374H300.95M302.8 1371.84H319.2M321.05 1360.8H337.45M357.45 1381.68H373.85M375.7 1390.08H392.1M393.95 1371.6H410.35M430.35 1383.36H446.75M448.6 1405.44H465M466.85 1376.88H483.25" stroke="#333333" stroke-width="1.6" fill="none"/></g>
<text transform="translate(103 1212.51) rotate(0.03) scale(1 1.05)" font-size="24.8" text-anchor="end" stroke="#000" stroke-width="0.25">0.0</text>
<text transform="translate(103 1276.83) rotate(0.03) scale(1 1.05)" font-size="24.8" text-anchor="end" stroke="#000" stroke-width="0.25">−2.5</text>
<text transform="translate(103 1341.15) rotate(0.03) scale(1 1.05)" font-size="24.8" text-anchor="end" stroke="#000" stroke-width="0.25">−5.0</text>
<text transform="translate(103 1405.47) rotate(0.03) scale(1 1.05)" font-size="24.8" text-anchor="end" stroke="#000" stroke-width="0.25">−7.5</text>
<text transform="translate(103 1469.79) rotate(0.03) scale(1 1.05)" font-size="24.8" text-anchor="end" stroke="#000" stroke-width="0.25">−10.0</text>
<path d="M121.45 1190.25V1475.4M115 1204.11H121.45M115 1268.43H121.45M115 1332.75H121.45M115 1397.07H121.45M115 1461.39H121.45" stroke="#000" stroke-width="2.3" fill="none"/>
<rect x="513.2" y="1155.15" width="377.3" height="34.9" fill="#fff" stroke="#000" stroke-width="2.4"/>
<text transform="translate(701.85 1179.3) rotate(0.03) scale(1 1.04)" font-size="20.65" text-anchor="middle" fill="#1a1a1a">Genk (Belgium)</text>
<g clip-path="url(#cB2)"><path d="M537.85 1268.9V1319.53M537.85 1359.6V1418.15M556.1 1266.98V1320.73M556.1 1357.45V1412.15M574.35 1275.62V1333.21M574.35 1373.76V1434.95M610.75 1317.37V1349.53M610.75 1372.56V1406.16M629 1308.01V1358.4M629 1392.96V1444.55M647.25 1320.49V1363.44M647.25 1398.48V1449.35M683.65 1336.57V1359.36M683.65 1375.44V1400.16M701.9 1324.81V1369.44M701.9 1403.04V1451.75M720.15 1333.45V1377.6M720.15 1411.43V1461.34M756.55 1352.17V1366.32M756.55 1376.4V1390.56M774.8 1342.09V1383.12M774.8 1413.59V1458.94M793.05 1350.97V1397.52M793.05 1435.19V1478.14M829.45 1359.36V1368.48M829.45 1376.4V1387.68M847.7 1353.37V1392.48M847.7 1419.59V1457.75M865.95 1364.4V1413.35M865.95 1449.35V1478.14" stroke="#333333" stroke-width="0.75" fill="none"/><g fill="#333333"><circle cx="537.85" cy="1420.55" r="2.05"/><circle cx="537.85" cy="1422.95" r="2.05"/><circle cx="537.85" cy="1427.75" r="2.05"/><circle cx="537.85" cy="1430.15" r="2.05"/><circle cx="556.1" cy="1262.66" r="2.05"/><circle cx="556.1" cy="1260.26" r="2.05"/><circle cx="556.1" cy="1414.55" r="2.05"/><circle cx="556.1" cy="1415.39" r="2.05"/><circle cx="556.1" cy="1416.9" r="2.05"/><circle cx="556.1" cy="1418.5" r="2.05"/><circle cx="556.1" cy="1420.86" r="2.05"/><circle cx="556.1" cy="1422.95" r="2.05"/><circle cx="556.1" cy="1427.27" r="2.05"/><circle cx="556.1" cy="1433.75" r="2.05"/><circle cx="556.1" cy="1435.55" r="2.05"/><circle cx="556.1" cy="1437.35" r="2.05"/><circle cx="556.1" cy="1452.23" r="2.05"/><circle cx="574.35" cy="1436.15" r="2.05"/><circle cx="574.35" cy="1436.93" r="2.05"/><circle cx="574.35" cy="1437.96" r="2.05"/><circle cx="574.35" cy="1439.79" r="2.05"/><circle cx="574.35" cy="1442.4" r="2.05"/><circle cx="574.35" cy="1446.95" r="2.05"/><circle cx="574.35" cy="1452.95" r="2.05"/><circle cx="574.35" cy="1453.98" r="2.05"/><circle cx="574.35" cy="1455.3" r="2.05"/><circle cx="574.35" cy="1456.88" r="2.05"/><circle cx="574.35" cy="1458.45" r="2.05"/><circle cx="574.35" cy="1460.53" r="2.05"/><circle cx="574.35" cy="1462.2" r="2.05"/><circle cx="574.35" cy="1465.25" r="2.05"/><circle cx="574.35" cy="1468.6" r="2.05"/><circle cx="574.35" cy="1473.34" r="2.05"/><circle cx="610.75" cy="1314.25" r="2.05"/><circle cx="610.75" cy="1408.55" r="2.05"/><circle cx="610.75" cy="1409.6" r="2.05"/><circle cx="610.75" cy="1410.64" r="2.05"/><circle cx="610.75" cy="1411.75" r="2.05"/><circle cx="610.75" cy="1414.19" r="2.05"/><circle cx="610.75" cy="1416.53" r="2.05"/><circle cx="610.75" cy="1419.35" r="2.05"/><circle cx="629" cy="1447.67" r="2.05"/><circle cx="629" cy="1451.75" r="2.05"/><circle cx="629" cy="1452.62" r="2.05"/><circle cx="629" cy="1453.68" r="2.05"/><circle cx="629" cy="1455.59" r="2.05"/><circle cx="629" cy="1459.06" r="2.05"/><circle cx="629" cy="1460.14" r="2.05"/><circle cx="647.25" cy="1450.55" r="2.05"/><circle cx="647.25" cy="1451.6" r="2.05"/><circle cx="647.25" cy="1452.52" r="2.05"/><circle cx="647.25" cy="1453.72" r="2.05"/><circle cx="647.25" cy="1454.96" r="2.05"/><circle cx="647.25" cy="1456.19" r="2.05"/><circle cx="647.25" cy="1457.57" r="2.05"/><circle cx="647.25" cy="1459.22" r="2.05"/><circle cx="647.25" cy="1462.11" r="2.05"/><circle cx="647.25" cy="1465.06" r="2.05"/><circle cx="647.25" cy="1468.07" r="2.05"/><circle cx="647.25" cy="1473.34" r="2.05"/><circle cx="683.65" cy="1334.65" r="2.05"/><circle cx="683.65" cy="1333.4" r="2.05"/><circle cx="683.65" cy="1332.17" r="2.05"/><circle cx="683.65" cy="1330.8" r="2.05"/><circle cx="683.65" cy="1328.9" r="2.05"/><circle cx="683.65" cy="1326.44" r="2.05"/><circle cx="683.65" cy="1324.57" r="2.05"/><circle cx="683.65" cy="1402.08" r="2.05"/><circle cx="683.65" cy="1403.84" r="2.05"/><circle cx="683.65" cy="1405.6" r="2.05"/><circle cx="683.65" cy="1407.36" r="2.05"/><circle cx="683.65" cy="1416.95" r="2.05"/><circle cx="701.9" cy="1453.43" r="2.05"/><circle cx="701.9" cy="1454.15" r="2.05"/><circle cx="701.9" cy="1455.14" r="2.05"/><circle cx="701.9" cy="1456.52" r="2.05"/><circle cx="701.9" cy="1459" r="2.05"/><circle cx="701.9" cy="1461.34" r="2.05"/><circle cx="701.9" cy="1466.86" r="2.05"/><circle cx="720.15" cy="1462.54" r="2.05"/><circle cx="720.15" cy="1463.65" r="2.05"/><circle cx="720.15" cy="1464.79" r="2.05"/><circle cx="720.15" cy="1466.29" r="2.05"/><circle cx="720.15" cy="1468.5" r="2.05"/><circle cx="720.15" cy="1471.44" r="2.05"/><circle cx="720.15" cy="1473.34" r="2.05"/><circle cx="756.55" cy="1350.97" r="2.05"/><circle cx="756.55" cy="1350.26" r="2.05"/><circle cx="756.55" cy="1349.32" r="2.05"/><circle cx="756.55" cy="1347.63" r="2.05"/><circle cx="756.55" cy="1346.18" r="2.05"/><circle cx="756.55" cy="1343.76" r="2.05"/><circle cx="756.55" cy="1340.06" r="2.05"/><circle cx="756.55" cy="1338.97" r="2.05"/><circle cx="756.55" cy="1392.96" r="2.05"/><circle cx="756.55" cy="1395.36" r="2.05"/><circle cx="774.8" cy="1461.34" r="2.05"/><circle cx="774.8" cy="1462.14" r="2.05"/><circle cx="774.8" cy="1463.09" r="2.05"/><circle cx="774.8" cy="1464.24" r="2.05"/><circle cx="774.8" cy="1465.85" r="2.05"/><circle cx="774.8" cy="1468.08" r="2.05"/><circle cx="774.8" cy="1472.18" r="2.05"/><circle cx="774.8" cy="1473.34" r="2.05"/><circle cx="829.45" cy="1347.61" r="2.05"/><circle cx="829.45" cy="1357.69" r="2.05"/><circle cx="829.45" cy="1355.85" r="2.05"/><circle cx="829.45" cy="1354.01" r="2.05"/><circle cx="829.45" cy="1352.17" r="2.05"/><circle cx="847.7" cy="1350.25" r="2.05"/><circle cx="847.7" cy="1459.42" r="2.05"/><circle cx="847.7" cy="1460.6" r="2.05"/><circle cx="847.7" cy="1461.44" r="2.05"/><circle cx="847.7" cy="1462.44" r="2.05"/><circle cx="847.7" cy="1464.36" r="2.05"/><circle cx="847.7" cy="1467.28" r="2.05"/><circle cx="847.7" cy="1470.75" r="2.05"/><circle cx="847.7" cy="1472.14" r="2.05"/></g><g stroke="#333333" stroke-width="0.62"><rect x="529.65" y="1319.53" width="16.4" height="40.07" fill="#DE756E"/><rect x="547.9" y="1320.73" width="16.4" height="36.71" fill="#68BA46"/><rect x="566.15" y="1333.21" width="16.4" height="40.55" fill="#769BF9"/><rect x="602.55" y="1349.53" width="16.4" height="23.04" fill="#DE756E"/><rect x="620.8" y="1358.4" width="16.4" height="34.55" fill="#68BA46"/><rect x="639.05" y="1363.44" width="16.4" height="35.03" fill="#769BF9"/><rect x="675.45" y="1359.36" width="16.4" height="16.08" fill="#DE756E"/><rect x="693.7" y="1369.44" width="16.4" height="33.59" fill="#68BA46"/><rect x="711.95" y="1377.6" width="16.4" height="33.83" fill="#769BF9"/><rect x="748.35" y="1366.32" width="16.4" height="10.08" fill="#DE756E"/><rect x="766.6" y="1383.12" width="16.4" height="30.47" fill="#68BA46"/><rect x="784.85" y="1397.52" width="16.4" height="37.67" fill="#769BF9"/><rect x="821.25" y="1368.48" width="16.4" height="7.92" fill="#DE756E"/><rect x="839.5" y="1392.48" width="16.4" height="27.11" fill="#68BA46"/><rect x="857.75" y="1413.35" width="16.4" height="35.99" fill="#769BF9"/></g><path d="M529.65 1339.45H546.05M547.9 1338.49H564.3M566.15 1352.17H582.55M602.55 1361.52H618.95M620.8 1374.48H637.2M639.05 1380H655.45M675.45 1367.76H691.85M693.7 1385.28H710.1M711.95 1393.68H728.35M748.35 1371.36H764.75M766.6 1398.24H783M784.85 1414.79H801.25M821.25 1372.56H837.65M839.5 1405.68H855.9M857.75 1429.43H874.15" stroke="#333333" stroke-width="1.6" fill="none"/></g>
<rect x="904.1" y="1155.15" width="377.3" height="34.9" fill="#fff" stroke="#000" stroke-width="2.4"/>
<text transform="translate(1092.75 1179.3) rotate(0.03) scale(1 1.04)" font-size="20.65" text-anchor="middle" fill="#1a1a1a">Leuven (Belgium)</text>
<g clip-path="url(#cB3)"><path d="M928.75 1280.18V1322.41M928.75 1365.36V1414.31M947 1267.22V1315.69M947 1355.29V1413.35M965.25 1285.46V1328.65M965.25 1367.76V1425.35M1001.65 1316.41V1358.64M1001.65 1390.56V1414.31M1019.9 1299.62V1355.53M1019.9 1395.36V1454.15M1038.15 1318.33V1365.6M1038.15 1401.36V1451.03M1074.55 1329.85V1370.16M1074.55 1396.32V1414.55M1092.8 1319.29V1369.44M1092.8 1407.36V1458.46M1111.05 1328.89V1379.76M1111.05 1413.59V1456.07M1147.45 1353.37V1380.72M1147.45 1399.92V1414.31M1165.7 1344.01V1385.52M1165.7 1419.83V1465.66M1183.95 1358.16V1395.6M1183.95 1421.51V1457.75M1220.35 1366.56V1385.52M1220.35 1399.92V1414.31M1238.6 1356.25V1395.6M1238.6 1428.47V1468.54M1256.85 1368.96V1402.56M1256.85 1425.59V1460.14" stroke="#333333" stroke-width="0.75" fill="none"/><g fill="#333333"><circle cx="947" cy="1414.55" r="2.05"/><circle cx="947" cy="1415.23" r="2.05"/><circle cx="947" cy="1416.18" r="2.05"/><circle cx="947" cy="1417.63" r="2.05"/><circle cx="947" cy="1419.31" r="2.05"/><circle cx="947" cy="1421.42" r="2.05"/><circle cx="947" cy="1424.27" r="2.05"/><circle cx="947" cy="1426.77" r="2.05"/><circle cx="947" cy="1429.54" r="2.05"/><circle cx="947" cy="1433.75" r="2.05"/><circle cx="947" cy="1438.07" r="2.05"/><circle cx="965.25" cy="1427.27" r="2.05"/><circle cx="965.25" cy="1428.24" r="2.05"/><circle cx="965.25" cy="1429.48" r="2.05"/><circle cx="965.25" cy="1431.26" r="2.05"/><circle cx="965.25" cy="1433.44" r="2.05"/><circle cx="965.25" cy="1436.35" r="2.05"/><circle cx="965.25" cy="1440.95" r="2.05"/><circle cx="965.25" cy="1445.75" r="2.05"/><circle cx="965.25" cy="1451.27" r="2.05"/><circle cx="965.25" cy="1462.06" r="2.05"/><circle cx="1019.9" cy="1460.14" r="2.05"/><circle cx="1074.55" cy="1324.09" r="2.05"/><circle cx="1074.55" cy="1327.93" r="2.05"/><circle cx="1147.45" cy="1352.17" r="2.05"/><circle cx="1147.45" cy="1350.37" r="2.05"/><circle cx="1147.45" cy="1348.57" r="2.05"/><circle cx="1183.95" cy="1352.17" r="2.05"/><circle cx="1183.95" cy="1355.29" r="2.05"/><circle cx="1220.35" cy="1357.45" r="2.05"/><circle cx="1220.35" cy="1364.16" r="2.05"/><circle cx="1220.35" cy="1361.76" r="2.05"/><circle cx="1256.85" cy="1361.52" r="2.05"/><circle cx="1256.85" cy="1366.08" r="2.05"/></g><g stroke="#333333" stroke-width="0.62"><rect x="920.55" y="1322.41" width="16.4" height="42.95" fill="#DE756E"/><rect x="938.8" y="1315.69" width="16.4" height="39.59" fill="#68BA46"/><rect x="957.05" y="1328.65" width="16.4" height="39.11" fill="#769BF9"/><rect x="993.45" y="1358.64" width="16.4" height="31.91" fill="#DE756E"/><rect x="1011.7" y="1355.53" width="16.4" height="39.83" fill="#68BA46"/><rect x="1029.95" y="1365.6" width="16.4" height="35.75" fill="#769BF9"/><rect x="1066.35" y="1370.16" width="16.4" height="26.15" fill="#DE756E"/><rect x="1084.6" y="1369.44" width="16.4" height="37.91" fill="#68BA46"/><rect x="1102.85" y="1379.76" width="16.4" height="33.83" fill="#769BF9"/><rect x="1139.25" y="1380.72" width="16.4" height="19.2" fill="#DE756E"/><rect x="1157.5" y="1385.52" width="16.4" height="34.31" fill="#68BA46"/><rect x="1175.75" y="1395.6" width="16.4" height="25.91" fill="#769BF9"/><rect x="1212.15" y="1385.52" width="16.4" height="14.4" fill="#DE756E"/><rect x="1230.4" y="1395.6" width="16.4" height="32.87" fill="#68BA46"/><rect x="1248.65" y="1402.56" width="16.4" height="23.04" fill="#769BF9"/></g><path d="M920.55 1342.09H936.95M938.8 1336.09H955.2M957.05 1347.85H973.45M993.45 1374H1009.85M1011.7 1375.68H1028.1M1029.95 1384.8H1046.35M1066.35 1383.12H1082.75M1084.6 1387.2H1101M1102.85 1396.32H1119.25M1139.25 1391.04H1155.65M1157.5 1402.32H1173.9M1175.75 1409.03H1192.15M1212.15 1393.92H1228.55M1230.4 1411.67H1246.8M1248.65 1415.03H1265.05" stroke="#333333" stroke-width="1.6" fill="none"/></g>
<rect x="1295" y="1155.15" width="377.3" height="34.9" fill="#fff" stroke="#000" stroke-width="2.4"/>
<text transform="translate(1483.65 1179.3) rotate(0.03) scale(1 1.04)" font-size="20.65" text-anchor="middle" fill="#1a1a1a">Katowice (Poland)</text>
<g clip-path="url(#cB4)"><path d="M1319.65 1270.58V1323.61M1319.65 1366.32V1428.95M1337.9 1265.3V1315.45M1337.9 1351.69V1406.16M1356.15 1280.9V1334.65M1356.15 1378.08V1441.67M1392.55 1319.29V1364.4M1392.55 1402.32V1443.59M1410.8 1308.25V1355.77M1410.8 1392.24V1445.75M1429.05 1320.49V1371.84M1429.05 1411.43V1469.74M1465.45 1334.89V1381.68M1465.45 1413.35V1443.59M1483.7 1326.49V1371.36M1483.7 1405.44V1455.35M1501.95 1333.69V1387.68M1501.95 1423.67V1472.62M1538.35 1361.76V1398.48M1538.35 1424.39V1443.59M1556.6 1340.41V1387.68M1556.6 1420.55V1468.54M1574.85 1358.16V1404.48M1574.85 1436.15V1478.14M1611.25 1378.56V1408.79M1611.25 1429.91V1443.59M1629.5 1355.77V1394.64M1629.5 1426.55V1473.34M1647.75 1377.36V1417.19M1647.75 1443.59V1478.14" stroke="#333333" stroke-width="0.75" fill="none"/><g fill="#333333"><circle cx="1319.65" cy="1430.15" r="2.05"/><circle cx="1319.65" cy="1431.09" r="2.05"/><circle cx="1319.65" cy="1432.23" r="2.05"/><circle cx="1319.65" cy="1433.24" r="2.05"/><circle cx="1319.65" cy="1435.22" r="2.05"/><circle cx="1319.65" cy="1437.18" r="2.05"/><circle cx="1319.65" cy="1441.04" r="2.05"/><circle cx="1319.65" cy="1443.35" r="2.05"/><circle cx="1337.9" cy="1408.07" r="2.05"/><circle cx="1337.9" cy="1408.92" r="2.05"/><circle cx="1337.9" cy="1409.74" r="2.05"/><circle cx="1337.9" cy="1410.75" r="2.05"/><circle cx="1337.9" cy="1412.25" r="2.05"/><circle cx="1337.9" cy="1414.17" r="2.05"/><circle cx="1337.9" cy="1415.86" r="2.05"/><circle cx="1337.9" cy="1417.84" r="2.05"/><circle cx="1337.9" cy="1421.13" r="2.05"/><circle cx="1337.9" cy="1425.35" r="2.05"/><circle cx="1337.9" cy="1427.75" r="2.05"/><circle cx="1337.9" cy="1431.83" r="2.05"/><circle cx="1356.15" cy="1442.87" r="2.05"/><circle cx="1356.15" cy="1443.76" r="2.05"/><circle cx="1356.15" cy="1444.71" r="2.05"/><circle cx="1356.15" cy="1446.21" r="2.05"/><circle cx="1356.15" cy="1447.59" r="2.05"/><circle cx="1356.15" cy="1449.8" r="2.05"/><circle cx="1356.15" cy="1453.23" r="2.05"/><circle cx="1356.15" cy="1454.15" r="2.05"/><circle cx="1356.15" cy="1460.62" r="2.05"/><circle cx="1356.15" cy="1472.62" r="2.05"/><circle cx="1410.8" cy="1446.95" r="2.05"/><circle cx="1410.8" cy="1447.99" r="2.05"/><circle cx="1410.8" cy="1449.35" r="2.05"/><circle cx="1410.8" cy="1450.71" r="2.05"/><circle cx="1410.8" cy="1452.15" r="2.05"/><circle cx="1410.8" cy="1453.94" r="2.05"/><circle cx="1410.8" cy="1457.32" r="2.05"/><circle cx="1410.8" cy="1461.57" r="2.05"/><circle cx="1410.8" cy="1462.54" r="2.05"/><circle cx="1410.8" cy="1469.74" r="2.05"/><circle cx="1429.05" cy="1472.62" r="2.05"/><circle cx="1465.45" cy="1327.69" r="2.05"/><circle cx="1465.45" cy="1332.01" r="2.05"/><circle cx="1483.7" cy="1319.29" r="2.05"/><circle cx="1483.7" cy="1316.89" r="2.05"/><circle cx="1483.7" cy="1457.27" r="2.05"/><circle cx="1483.7" cy="1457.95" r="2.05"/><circle cx="1483.7" cy="1459.12" r="2.05"/><circle cx="1483.7" cy="1461.01" r="2.05"/><circle cx="1483.7" cy="1463.72" r="2.05"/><circle cx="1483.7" cy="1464.94" r="2.05"/><circle cx="1483.7" cy="1468.54" r="2.05"/><circle cx="1538.35" cy="1351.69" r="2.05"/><circle cx="1538.35" cy="1349.77" r="2.05"/><circle cx="1538.35" cy="1358.88" r="2.05"/><circle cx="1556.6" cy="1469.74" r="2.05"/><circle cx="1556.6" cy="1471.18" r="2.05"/><circle cx="1556.6" cy="1472.62" r="2.05"/><circle cx="1611.25" cy="1377.36" r="2.05"/><circle cx="1611.25" cy="1375.86" r="2.05"/><circle cx="1611.25" cy="1374.36" r="2.05"/><circle cx="1611.25" cy="1372.86" r="2.05"/><circle cx="1611.25" cy="1371.36" r="2.05"/><circle cx="1629.5" cy="1473.58" r="2.05"/><circle cx="1647.75" cy="1369.92" r="2.05"/><circle cx="1647.75" cy="1376.4" r="2.05"/></g><g stroke="#333333" stroke-width="0.62"><rect x="1311.45" y="1323.61" width="16.4" height="42.71" fill="#DE756E"/><rect x="1329.7" y="1315.45" width="16.4" height="36.23" fill="#68BA46"/><rect x="1347.95" y="1334.65" width="16.4" height="43.43" fill="#769BF9"/><rect x="1384.35" y="1364.4" width="16.4" height="37.91" fill="#DE756E"/><rect x="1402.6" y="1355.77" width="16.4" height="36.47" fill="#68BA46"/><rect x="1420.85" y="1371.84" width="16.4" height="39.59" fill="#769BF9"/><rect x="1457.25" y="1381.68" width="16.4" height="31.67" fill="#DE756E"/><rect x="1475.5" y="1371.36" width="16.4" height="34.07" fill="#68BA46"/><rect x="1493.75" y="1387.68" width="16.4" height="35.99" fill="#769BF9"/><rect x="1530.15" y="1398.48" width="16.4" height="25.91" fill="#DE756E"/><rect x="1548.4" y="1387.68" width="16.4" height="32.87" fill="#68BA46"/><rect x="1566.65" y="1404.48" width="16.4" height="31.67" fill="#769BF9"/><rect x="1603.05" y="1408.79" width="16.4" height="21.12" fill="#DE756E"/><rect x="1621.3" y="1394.64" width="16.4" height="31.91" fill="#68BA46"/><rect x="1639.55" y="1417.19" width="16.4" height="26.39" fill="#769BF9"/></g><path d="M1311.45 1342.33H1327.85M1329.7 1333.45H1346.1M1347.95 1355.29H1364.35M1384.35 1381.68H1400.75M1402.6 1374.24H1419M1420.85 1390.08H1437.25M1457.25 1396.32H1473.65M1475.5 1387.68H1491.9M1493.75 1404.96H1510.15M1530.15 1410.95H1546.55M1548.4 1402.56H1564.8M1566.65 1419.59H1583.05M1603.05 1419.83H1619.45M1621.3 1409.51H1637.7M1639.55 1431.35H1655.95" stroke="#333333" stroke-width="1.6" fill="none"/></g>
<rect x="122.3" y="1487.05" width="377.3" height="34.9" fill="#fff" stroke="#000" stroke-width="2.4"/>
<text transform="translate(310.95 1511.2) rotate(0.03) scale(1 1.04)" font-size="20.65" text-anchor="middle" fill="#1a1a1a">Malmö (Sweden)</text>
<g clip-path="url(#cB5)"><path d="M146.95 1608.58V1658.49M146.95 1704.32V1763.83M165.2 1598.02V1652.49M165.2 1689.45V1742.95M183.45 1616.74V1669.29M183.45 1709.6V1769.35M219.85 1646.97V1697.6M219.85 1733.12V1763.83M238.1 1643.85V1688.49M238.1 1722.56V1772.95M256.35 1645.05V1702.88M256.35 1742.95V1802.94M292.75 1669.77V1711.76M292.75 1740.31V1763.83M311 1657.29V1701.2M311 1736.48V1786.15M329.25 1666.41V1717.76M329.25 1753.51V1805.34M365.65 1698.56V1725.68M365.65 1745.35V1763.83M383.9 1681.53V1722.32M383.9 1753.75V1799.34M402.15 1688.25V1732.16M402.15 1764.55V1810.14M438.55 1716.56V1734.32M438.55 1747.75V1762.63M456.8 1703.36V1735.76M456.8 1762.15V1799.34M475.05 1706.24V1741.03M475.05 1767.67V1810.14" stroke="#333333" stroke-width="0.75" fill="none"/><g fill="#333333"><circle cx="165.2" cy="1745.35" r="2.05"/><circle cx="165.2" cy="1747.15" r="2.05"/><circle cx="165.2" cy="1748.95" r="2.05"/><circle cx="165.2" cy="1750.75" r="2.05"/><circle cx="165.2" cy="1752.55" r="2.05"/><circle cx="165.2" cy="1767.67" r="2.05"/><circle cx="183.45" cy="1771.27" r="2.05"/><circle cx="183.45" cy="1772.32" r="2.05"/><circle cx="183.45" cy="1773.72" r="2.05"/><circle cx="183.45" cy="1774.91" r="2.05"/><circle cx="183.45" cy="1776.16" r="2.05"/><circle cx="183.45" cy="1778.04" r="2.05"/><circle cx="183.45" cy="1780.6" r="2.05"/><circle cx="183.45" cy="1784.57" r="2.05"/><circle cx="183.45" cy="1786.15" r="2.05"/><circle cx="183.45" cy="1788.55" r="2.05"/><circle cx="183.45" cy="1793.34" r="2.05"/><circle cx="183.45" cy="1798.62" r="2.05"/><circle cx="183.45" cy="1804.14" r="2.05"/><circle cx="219.85" cy="1639.54" r="2.05"/><circle cx="238.1" cy="1634.98" r="2.05"/><circle cx="238.1" cy="1774.15" r="2.05"/><circle cx="238.1" cy="1775.28" r="2.05"/><circle cx="238.1" cy="1776.47" r="2.05"/><circle cx="238.1" cy="1777.65" r="2.05"/><circle cx="238.1" cy="1778.75" r="2.05"/><circle cx="238.1" cy="1780.65" r="2.05"/><circle cx="238.1" cy="1782.24" r="2.05"/><circle cx="238.1" cy="1784.69" r="2.05"/><circle cx="238.1" cy="1786.79" r="2.05"/><circle cx="238.1" cy="1789.22" r="2.05"/><circle cx="238.1" cy="1793.17" r="2.05"/><circle cx="238.1" cy="1796.93" r="2.05"/><circle cx="238.1" cy="1799.34" r="2.05"/><circle cx="256.35" cy="1804.86" r="2.05"/><circle cx="292.75" cy="1668.57" r="2.05"/><circle cx="292.75" cy="1667.61" r="2.05"/><circle cx="292.75" cy="1666.6" r="2.05"/><circle cx="292.75" cy="1665.19" r="2.05"/><circle cx="292.75" cy="1662.89" r="2.05"/><circle cx="292.75" cy="1660.17" r="2.05"/><circle cx="311" cy="1788.07" r="2.05"/><circle cx="311" cy="1789.28" r="2.05"/><circle cx="311" cy="1790.25" r="2.05"/><circle cx="311" cy="1791.68" r="2.05"/><circle cx="311" cy="1793.38" r="2.05"/><circle cx="311" cy="1796.93" r="2.05"/><circle cx="311" cy="1799.34" r="2.05"/><circle cx="311" cy="1804.62" r="2.05"/><circle cx="329.25" cy="1805.58" r="2.05"/><circle cx="365.65" cy="1685.37" r="2.05"/><circle cx="365.65" cy="1694.96" r="2.05"/><circle cx="365.65" cy="1693.4" r="2.05"/><circle cx="365.65" cy="1691.84" r="2.05"/><circle cx="383.9" cy="1800.54" r="2.05"/><circle cx="383.9" cy="1802.58" r="2.05"/><circle cx="383.9" cy="1804.62" r="2.05"/><circle cx="438.55" cy="1715.36" r="2.05"/><circle cx="438.55" cy="1714.66" r="2.05"/><circle cx="438.55" cy="1713.89" r="2.05"/><circle cx="438.55" cy="1712.77" r="2.05"/><circle cx="438.55" cy="1710.98" r="2.05"/><circle cx="438.55" cy="1708.62" r="2.05"/><circle cx="438.55" cy="1705.61" r="2.05"/><circle cx="438.55" cy="1700.24" r="2.05"/><circle cx="456.8" cy="1686.81" r="2.05"/><circle cx="456.8" cy="1800.54" r="2.05"/><circle cx="456.8" cy="1802.58" r="2.05"/><circle cx="456.8" cy="1804.62" r="2.05"/><circle cx="475.05" cy="1699.52" r="2.05"/></g><g stroke="#333333" stroke-width="0.62"><rect x="138.75" y="1658.49" width="16.4" height="45.83" fill="#DE756E"/><rect x="157" y="1652.49" width="16.4" height="36.95" fill="#68BA46"/><rect x="175.25" y="1669.29" width="16.4" height="40.31" fill="#769BF9"/><rect x="211.65" y="1697.6" width="16.4" height="35.51" fill="#DE756E"/><rect x="229.9" y="1688.49" width="16.4" height="34.07" fill="#68BA46"/><rect x="248.15" y="1702.88" width="16.4" height="40.07" fill="#769BF9"/><rect x="284.55" y="1711.76" width="16.4" height="28.55" fill="#DE756E"/><rect x="302.8" y="1701.2" width="16.4" height="35.27" fill="#68BA46"/><rect x="321.05" y="1717.76" width="16.4" height="35.75" fill="#769BF9"/><rect x="357.45" y="1725.68" width="16.4" height="19.68" fill="#DE756E"/><rect x="375.7" y="1722.32" width="16.4" height="31.43" fill="#68BA46"/><rect x="393.95" y="1732.16" width="16.4" height="32.39" fill="#769BF9"/><rect x="430.35" y="1734.32" width="16.4" height="13.44" fill="#DE756E"/><rect x="448.6" y="1735.76" width="16.4" height="26.39" fill="#68BA46"/><rect x="466.85" y="1741.03" width="16.4" height="26.63" fill="#769BF9"/></g><path d="M138.75 1679.37H155.15M157 1670.73H173.4M175.25 1687.53H191.65M211.65 1714.4H228.05M229.9 1705.28H246.3M248.15 1722.32H264.55M284.55 1726.16H300.95M302.8 1718H319.2M321.05 1735.28H337.45M357.45 1736H373.85M375.7 1736.96H392.1M393.95 1747.51H410.35M430.35 1741.03H446.75M448.6 1748.47H465M466.85 1753.99H483.25" stroke="#333333" stroke-width="1.6" fill="none"/></g>
<text transform="translate(103 1544.41) rotate(0.03) scale(1 1.05)" font-size="24.8" text-anchor="end" stroke="#000" stroke-width="0.25">0.0</text>
<text transform="translate(103 1608.73) rotate(0.03) scale(1 1.05)" font-size="24.8" text-anchor="end" stroke="#000" stroke-width="0.25">−2.5</text>
<text transform="translate(103 1673.05) rotate(0.03) scale(1 1.05)" font-size="24.8" text-anchor="end" stroke="#000" stroke-width="0.25">−5.0</text>
<text transform="translate(103 1737.37) rotate(0.03) scale(1 1.05)" font-size="24.8" text-anchor="end" stroke="#000" stroke-width="0.25">−7.5</text>
<text transform="translate(103 1801.69) rotate(0.03) scale(1 1.05)" font-size="24.8" text-anchor="end" stroke="#000" stroke-width="0.25">−10.0</text>
<path d="M121.45 1522.15V1807.3M115 1536.01H121.45M115 1600.33H121.45M115 1664.65H121.45M115 1728.97H121.45M115 1793.29H121.45" stroke="#000" stroke-width="2.3" fill="none"/>
<rect x="513.2" y="1487.05" width="377.3" height="34.9" fill="#fff" stroke="#000" stroke-width="2.4"/>
<text transform="translate(701.85 1511.2) rotate(0.03) scale(1 1.04)" font-size="20.65" text-anchor="middle" fill="#1a1a1a">Milan (Italy)</text>
<g clip-path="url(#cB6)"><path d="M537.85 1600.18V1651.29M537.85 1688.25V1735.76M556.1 1598.26V1645.53M556.1 1680.81V1732.16M574.35 1610.98V1665.21M574.35 1702.4V1757.35M610.75 1649.37V1680.57M610.75 1702.4V1735.76M629 1645.53V1687.05M629 1719.2V1765.75M647.25 1650.33V1690.64M647.25 1718.72V1758.55M683.65 1666.17V1688.25M683.65 1705.28V1728.56M701.9 1664.25V1701.44M701.9 1731.2V1775.35M720.15 1668.57V1700.48M720.15 1723.04V1754.95M756.55 1682.97V1695.2M756.55 1705.52V1718.96M774.8 1680.57V1718.24M774.8 1745.35V1784.95M793.05 1682.97V1710.32M793.05 1729.76V1757.35M829.45 1690.16V1698.08M829.45 1704.8V1714.16M847.7 1690.16V1727.84M847.7 1754.47V1793.34M865.95 1690.16V1714.64M865.95 1732.16V1756.15" stroke="#333333" stroke-width="0.75" fill="none"/><g fill="#333333"><circle cx="556.1" cy="1734.56" r="2.05"/><circle cx="556.1" cy="1735.76" r="2.05"/><circle cx="556.1" cy="1736.88" r="2.05"/><circle cx="556.1" cy="1738.18" r="2.05"/><circle cx="556.1" cy="1740.86" r="2.05"/><circle cx="556.1" cy="1745.35" r="2.05"/><circle cx="556.1" cy="1753.99" r="2.05"/><circle cx="556.1" cy="1764.79" r="2.05"/><circle cx="574.35" cy="1606.42" r="2.05"/><circle cx="574.35" cy="1759.75" r="2.05"/><circle cx="610.75" cy="1645.77" r="2.05"/><circle cx="610.75" cy="1644.27" r="2.05"/><circle cx="610.75" cy="1642.77" r="2.05"/><circle cx="610.75" cy="1641.27" r="2.05"/><circle cx="610.75" cy="1639.78" r="2.05"/><circle cx="629" cy="1768.39" r="2.05"/><circle cx="629" cy="1773.67" r="2.05"/><circle cx="629" cy="1775.11" r="2.05"/><circle cx="629" cy="1776.55" r="2.05"/><circle cx="629" cy="1780.87" r="2.05"/><circle cx="647.25" cy="1760.23" r="2.05"/><circle cx="647.25" cy="1762.15" r="2.05"/><circle cx="647.25" cy="1764.07" r="2.05"/><circle cx="647.25" cy="1772.23" r="2.05"/><circle cx="683.65" cy="1663.77" r="2.05"/><circle cx="683.65" cy="1661.73" r="2.05"/><circle cx="683.65" cy="1659.69" r="2.05"/><circle cx="683.65" cy="1729.76" r="2.05"/><circle cx="683.65" cy="1731.36" r="2.05"/><circle cx="683.65" cy="1732.96" r="2.05"/><circle cx="683.65" cy="1734.56" r="2.05"/><circle cx="701.9" cy="1645.05" r="2.05"/><circle cx="701.9" cy="1655.37" r="2.05"/><circle cx="701.9" cy="1777.27" r="2.05"/><circle cx="701.9" cy="1778.95" r="2.05"/><circle cx="701.9" cy="1780.63" r="2.05"/><circle cx="701.9" cy="1792.62" r="2.05"/><circle cx="720.15" cy="1665.21" r="2.05"/><circle cx="720.15" cy="1756.87" r="2.05"/><circle cx="720.15" cy="1758.47" r="2.05"/><circle cx="720.15" cy="1760.07" r="2.05"/><circle cx="720.15" cy="1761.67" r="2.05"/><circle cx="756.55" cy="1670.01" r="2.05"/><circle cx="756.55" cy="1680.57" r="2.05"/><circle cx="756.55" cy="1678.77" r="2.05"/><circle cx="756.55" cy="1676.97" r="2.05"/><circle cx="756.55" cy="1720.16" r="2.05"/><circle cx="756.55" cy="1722" r="2.05"/><circle cx="756.55" cy="1723.84" r="2.05"/><circle cx="756.55" cy="1725.68" r="2.05"/><circle cx="774.8" cy="1677.21" r="2.05"/><circle cx="774.8" cy="1786.15" r="2.05"/><circle cx="774.8" cy="1786.84" r="2.05"/><circle cx="774.8" cy="1788.04" r="2.05"/><circle cx="774.8" cy="1789.39" r="2.05"/><circle cx="774.8" cy="1791.21" r="2.05"/><circle cx="774.8" cy="1793.68" r="2.05"/><circle cx="774.8" cy="1796.94" r="2.05"/><circle cx="774.8" cy="1801.74" r="2.05"/><circle cx="774.8" cy="1803.18" r="2.05"/><circle cx="774.8" cy="1804.62" r="2.05"/><circle cx="793.05" cy="1680.57" r="2.05"/><circle cx="793.05" cy="1678.77" r="2.05"/><circle cx="793.05" cy="1676.97" r="2.05"/><circle cx="793.05" cy="1760.47" r="2.05"/><circle cx="793.05" cy="1769.35" r="2.05"/><circle cx="829.45" cy="1688.25" r="2.05"/><circle cx="829.45" cy="1687.57" r="2.05"/><circle cx="829.45" cy="1686.6" r="2.05"/><circle cx="829.45" cy="1685.27" r="2.05"/><circle cx="829.45" cy="1682.68" r="2.05"/><circle cx="829.45" cy="1680.04" r="2.05"/><circle cx="829.45" cy="1678.89" r="2.05"/><circle cx="829.45" cy="1715.36" r="2.05"/><circle cx="829.45" cy="1717.2" r="2.05"/><circle cx="829.45" cy="1719.04" r="2.05"/><circle cx="829.45" cy="1720.88" r="2.05"/><circle cx="847.7" cy="1687.05" r="2.05"/><circle cx="847.7" cy="1794.54" r="2.05"/><circle cx="847.7" cy="1795.34" r="2.05"/><circle cx="847.7" cy="1796.37" r="2.05"/><circle cx="847.7" cy="1798.14" r="2.05"/><circle cx="847.7" cy="1800.79" r="2.05"/><circle cx="847.7" cy="1804.62" r="2.05"/><circle cx="865.95" cy="1687.77" r="2.05"/><circle cx="865.95" cy="1757.83" r="2.05"/><circle cx="865.95" cy="1759.51" r="2.05"/><circle cx="865.95" cy="1761.19" r="2.05"/><circle cx="865.95" cy="1762.87" r="2.05"/><circle cx="865.95" cy="1764.55" r="2.05"/></g><g stroke="#333333" stroke-width="0.62"><rect x="529.65" y="1651.29" width="16.4" height="36.95" fill="#DE756E"/><rect x="547.9" y="1645.53" width="16.4" height="35.27" fill="#68BA46"/><rect x="566.15" y="1665.21" width="16.4" height="37.19" fill="#769BF9"/><rect x="602.55" y="1680.57" width="16.4" height="21.84" fill="#DE756E"/><rect x="620.8" y="1687.05" width="16.4" height="32.15" fill="#68BA46"/><rect x="639.05" y="1690.64" width="16.4" height="28.07" fill="#769BF9"/><rect x="675.45" y="1688.25" width="16.4" height="17.04" fill="#DE756E"/><rect x="693.7" y="1701.44" width="16.4" height="29.75" fill="#68BA46"/><rect x="711.95" y="1700.48" width="16.4" height="22.56" fill="#769BF9"/><rect x="748.35" y="1695.2" width="16.4" height="10.32" fill="#DE756E"/><rect x="766.6" y="1718.24" width="16.4" height="27.11" fill="#68BA46"/><rect x="784.85" y="1710.32" width="16.4" height="19.44" fill="#769BF9"/><rect x="821.25" y="1698.08" width="16.4" height="6.72" fill="#DE756E"/><rect x="839.5" y="1727.84" width="16.4" height="26.63" fill="#68BA46"/><rect x="857.75" y="1714.64" width="16.4" height="17.52" fill="#769BF9"/></g><path d="M529.65 1669.05H546.05M547.9 1662.09H564.3M566.15 1682.97H582.55M602.55 1691.12H618.95M620.8 1701.92H637.2M639.05 1704.32H655.45M675.45 1696.4H691.85M693.7 1714.88H710.1M711.95 1711.04H728.35M748.35 1700.24H764.75M766.6 1731.2H783M784.85 1719.92H801.25M821.25 1701.2H837.65M839.5 1740.31H855.9M857.75 1723.52H874.15" stroke="#333333" stroke-width="1.6" fill="none"/></g>
<rect x="904.1" y="1487.05" width="377.3" height="34.9" fill="#fff" stroke="#000" stroke-width="2.4"/>
<text transform="translate(1092.75 1511.2) rotate(0.03) scale(1 1.04)" font-size="20.65" text-anchor="middle" fill="#1a1a1a">Prague (Czech Republic)</text>
<g clip-path="url(#cB7)"><path d="M928.75 1594.9V1642.17M928.75 1678.65V1733.84M947 1586.51V1631.38M947 1664.25V1714.16M965.25 1603.3V1643.37M965.25 1678.41V1729.76M1001.65 1636.66V1678.65M1001.65 1708.4V1733.84M1019.9 1633.06V1672.65M1019.9 1701.2V1741.75M1038.15 1639.06V1677.69M1038.15 1707.2V1733.84M1074.55 1656.57V1690.88M1074.55 1714.64V1733.84M1092.8 1654.17V1687.53M1092.8 1710.56V1744.15M1111.05 1658.25V1691.36M1111.05 1713.44V1735.28M1147.45 1676.49V1700.48M1147.45 1718.48V1733.84M1165.7 1667.37V1702.88M1165.7 1727.36V1762.15M1183.95 1679.37V1702.16M1183.95 1718.24V1735.76M1220.35 1686.57V1705.52M1220.35 1718.72V1733.84M1238.6 1680.57V1716.8M1238.6 1741.51V1777.75M1256.85 1692.56V1707.44M1256.85 1719.44V1734.56" stroke="#333333" stroke-width="0.75" fill="none"/><g fill="#333333"><circle cx="947" cy="1719.44" r="2.05"/><circle cx="947" cy="1726.64" r="2.05"/><circle cx="947" cy="1733.12" r="2.05"/><circle cx="965.25" cy="1731.92" r="2.05"/><circle cx="1019.9" cy="1620.58" r="2.05"/><circle cx="1019.9" cy="1744.15" r="2.05"/><circle cx="1019.9" cy="1745.75" r="2.05"/><circle cx="1019.9" cy="1747.35" r="2.05"/><circle cx="1019.9" cy="1748.95" r="2.05"/><circle cx="1019.9" cy="1754.95" r="2.05"/><circle cx="1019.9" cy="1760.23" r="2.05"/><circle cx="1019.9" cy="1762.03" r="2.05"/><circle cx="1019.9" cy="1763.83" r="2.05"/><circle cx="1038.15" cy="1630.18" r="2.05"/><circle cx="1038.15" cy="1628.26" r="2.05"/><circle cx="1074.55" cy="1651.77" r="2.05"/><circle cx="1092.8" cy="1652.25" r="2.05"/><circle cx="1092.8" cy="1650.81" r="2.05"/><circle cx="1092.8" cy="1649.37" r="2.05"/><circle cx="1092.8" cy="1745.83" r="2.05"/><circle cx="1092.8" cy="1746.53" r="2.05"/><circle cx="1092.8" cy="1747.54" r="2.05"/><circle cx="1092.8" cy="1748.63" r="2.05"/><circle cx="1092.8" cy="1750.34" r="2.05"/><circle cx="1092.8" cy="1751.73" r="2.05"/><circle cx="1092.8" cy="1753.6" r="2.05"/><circle cx="1092.8" cy="1756.68" r="2.05"/><circle cx="1092.8" cy="1759.07" r="2.05"/><circle cx="1092.8" cy="1762.87" r="2.05"/><circle cx="1092.8" cy="1764.55" r="2.05"/><circle cx="1092.8" cy="1770.55" r="2.05"/><circle cx="1092.8" cy="1776.55" r="2.05"/><circle cx="1111.05" cy="1653.45" r="2.05"/><circle cx="1147.45" cy="1673.37" r="2.05"/><circle cx="1147.45" cy="1671.45" r="2.05"/><circle cx="1165.7" cy="1665.69" r="2.05"/><circle cx="1165.7" cy="1664.25" r="2.05"/><circle cx="1165.7" cy="1764.55" r="2.05"/><circle cx="1165.7" cy="1765.66" r="2.05"/><circle cx="1165.7" cy="1766.51" r="2.05"/><circle cx="1165.7" cy="1767.51" r="2.05"/><circle cx="1165.7" cy="1768.77" r="2.05"/><circle cx="1165.7" cy="1771.43" r="2.05"/><circle cx="1165.7" cy="1774.15" r="2.05"/><circle cx="1165.7" cy="1777.03" r="2.05"/><circle cx="1183.95" cy="1667.37" r="2.05"/><circle cx="1183.95" cy="1665.57" r="2.05"/><circle cx="1183.95" cy="1663.77" r="2.05"/><circle cx="1183.95" cy="1677.45" r="2.05"/><circle cx="1183.95" cy="1675.65" r="2.05"/><circle cx="1183.95" cy="1673.85" r="2.05"/><circle cx="1220.35" cy="1684.89" r="2.05"/><circle cx="1220.35" cy="1683.33" r="2.05"/><circle cx="1220.35" cy="1681.77" r="2.05"/><circle cx="1238.6" cy="1676.25" r="2.05"/><circle cx="1238.6" cy="1778.95" r="2.05"/><circle cx="1238.6" cy="1780.14" r="2.05"/><circle cx="1238.6" cy="1781.14" r="2.05"/><circle cx="1238.6" cy="1782.27" r="2.05"/><circle cx="1238.6" cy="1784.23" r="2.05"/><circle cx="1238.6" cy="1786.4" r="2.05"/><circle cx="1238.6" cy="1788.65" r="2.05"/><circle cx="1238.6" cy="1792.4" r="2.05"/><circle cx="1238.6" cy="1795.74" r="2.05"/><circle cx="1238.6" cy="1800.54" r="2.05"/><circle cx="1256.85" cy="1673.13" r="2.05"/><circle cx="1256.85" cy="1690.16" r="2.05"/><circle cx="1256.85" cy="1688.57" r="2.05"/><circle cx="1256.85" cy="1686.97" r="2.05"/><circle cx="1256.85" cy="1685.37" r="2.05"/></g><g stroke="#333333" stroke-width="0.62"><rect x="920.55" y="1642.17" width="16.4" height="36.47" fill="#DE756E"/><rect x="938.8" y="1631.38" width="16.4" height="32.87" fill="#68BA46"/><rect x="957.05" y="1643.37" width="16.4" height="35.03" fill="#769BF9"/><rect x="993.45" y="1678.65" width="16.4" height="29.75" fill="#DE756E"/><rect x="1011.7" y="1672.65" width="16.4" height="28.55" fill="#68BA46"/><rect x="1029.95" y="1677.69" width="16.4" height="29.51" fill="#769BF9"/><rect x="1066.35" y="1690.88" width="16.4" height="23.76" fill="#DE756E"/><rect x="1084.6" y="1687.53" width="16.4" height="23.04" fill="#68BA46"/><rect x="1102.85" y="1691.36" width="16.4" height="22.08" fill="#769BF9"/><rect x="1139.25" y="1700.48" width="16.4" height="18" fill="#DE756E"/><rect x="1157.5" y="1702.88" width="16.4" height="24.48" fill="#68BA46"/><rect x="1175.75" y="1702.16" width="16.4" height="16.08" fill="#769BF9"/><rect x="1212.15" y="1705.52" width="16.4" height="13.2" fill="#DE756E"/><rect x="1230.4" y="1716.8" width="16.4" height="24.72" fill="#68BA46"/><rect x="1248.65" y="1707.44" width="16.4" height="12" fill="#769BF9"/></g><path d="M920.55 1659.21H936.95M938.8 1646.73H955.2M957.05 1658.73H973.45M993.45 1692.8H1009.85M1011.7 1686.09H1028.1M1029.95 1693.04H1046.35M1066.35 1702.88H1082.75M1084.6 1698.8H1101M1102.85 1703.12H1119.25M1139.25 1709.84H1155.65M1157.5 1714.16H1173.9M1175.75 1710.56H1192.15M1212.15 1712H1228.55M1230.4 1728.08H1246.8M1248.65 1713.44H1265.05" stroke="#333333" stroke-width="1.6" fill="none"/></g>
<text transform="translate(946.7 1835.85) rotate(0.03) scale(1 1.05)" font-size="24.8" text-anchor="middle" stroke="#000" stroke-width="0.25">20</text>
<text transform="translate(1019.6 1835.85) rotate(0.03) scale(1 1.05)" font-size="24.8" text-anchor="middle" stroke="#000" stroke-width="0.25">100</text>
<text transform="translate(1092.5 1835.85) rotate(0.03) scale(1 1.05)" font-size="24.8" text-anchor="middle" stroke="#000" stroke-width="0.25">200</text>
<text transform="translate(1165.4 1835.85) rotate(0.03) scale(1 1.05)" font-size="24.8" text-anchor="middle" stroke="#000" stroke-width="0.25">500</text>
<text transform="translate(1238.3 1835.85) rotate(0.03) scale(1 1.05)" font-size="24.8" text-anchor="middle" stroke="#000" stroke-width="0.25">1000</text>
<path d="M901.9 1806.15H1283.6M947 1806.15V1811.85M1019.9 1806.15V1811.85M1092.8 1806.15V1811.85M1165.7 1806.15V1811.85M1238.6 1806.15V1811.85" stroke="#000" stroke-width="2.3" fill="none"/>
<rect x="1295" y="1487.05" width="377.3" height="34.9" fill="#fff" stroke="#000" stroke-width="2.4"/>
<text transform="translate(1483.65 1511.2) rotate(0.03) scale(1 1.04)" font-size="20.65" text-anchor="middle" fill="#1a1a1a">Rome (Italy)</text>
<g clip-path="url(#cB8)"><path d="M1319.65 1598.26V1650.57M1319.65 1688.97V1738.64M1337.9 1597.06V1638.58M1337.9 1673.85V1726.16M1356.15 1612.9V1670.49M1356.15 1711.52V1771.75M1392.55 1642.17V1686.81M1392.55 1716.56V1738.16M1410.8 1639.06V1682.25M1410.8 1716.08V1766.95M1429.05 1656.33V1696.4M1429.05 1735.28V1789.75M1465.45 1661.37V1699.52M1465.45 1724.48V1738.4M1483.7 1655.37V1699.52M1483.7 1730.48V1776.55M1501.95 1662.57V1710.32M1501.95 1743.67V1785.43M1538.35 1685.37V1710.8M1538.35 1728.56V1738.4M1556.6 1676.97V1717.28M1556.6 1745.35V1786.15M1574.85 1689.45V1724.48M1574.85 1751.59V1782.55M1611.25 1694.96V1715.6M1611.25 1730.24V1738.4M1629.5 1693.76V1731.92M1629.5 1758.55V1796.94M1647.75 1703.36V1735.04M1647.75 1757.35V1788.55" stroke="#333333" stroke-width="0.75" fill="none"/><g fill="#333333"><circle cx="1337.9" cy="1728.08" r="2.05"/><circle cx="1337.9" cy="1728.91" r="2.05"/><circle cx="1337.9" cy="1729.71" r="2.05"/><circle cx="1337.9" cy="1731.34" r="2.05"/><circle cx="1337.9" cy="1733.93" r="2.05"/><circle cx="1337.9" cy="1738.16" r="2.05"/><circle cx="1337.9" cy="1744.15" r="2.05"/><circle cx="1337.9" cy="1745.59" r="2.05"/><circle cx="1337.9" cy="1747.03" r="2.05"/><circle cx="1356.15" cy="1774.15" r="2.05"/><circle cx="1356.15" cy="1775.75" r="2.05"/><circle cx="1356.15" cy="1777.35" r="2.05"/><circle cx="1356.15" cy="1778.95" r="2.05"/><circle cx="1356.15" cy="1782.55" r="2.05"/><circle cx="1356.15" cy="1784.35" r="2.05"/><circle cx="1356.15" cy="1786.15" r="2.05"/><circle cx="1356.15" cy="1790.46" r="2.05"/><circle cx="1410.8" cy="1770.07" r="2.05"/><circle cx="1410.8" cy="1771.87" r="2.05"/><circle cx="1410.8" cy="1773.67" r="2.05"/><circle cx="1410.8" cy="1775.47" r="2.05"/><circle cx="1410.8" cy="1777.27" r="2.05"/><circle cx="1465.45" cy="1658.49" r="2.05"/><circle cx="1465.45" cy="1656.09" r="2.05"/><circle cx="1483.7" cy="1651.05" r="2.05"/><circle cx="1483.7" cy="1779.67" r="2.05"/><circle cx="1501.95" cy="1659.21" r="2.05"/><circle cx="1538.35" cy="1682.97" r="2.05"/><circle cx="1538.35" cy="1680.57" r="2.05"/><circle cx="1556.6" cy="1673.37" r="2.05"/><circle cx="1556.6" cy="1788.07" r="2.05"/><circle cx="1556.6" cy="1789.28" r="2.05"/><circle cx="1556.6" cy="1790.09" r="2.05"/><circle cx="1556.6" cy="1791.16" r="2.05"/><circle cx="1556.6" cy="1792.67" r="2.05"/><circle cx="1556.6" cy="1795.09" r="2.05"/><circle cx="1556.6" cy="1798.39" r="2.05"/><circle cx="1556.6" cy="1801.8" r="2.05"/><circle cx="1556.6" cy="1804.14" r="2.05"/><circle cx="1611.25" cy="1687.05" r="2.05"/><circle cx="1611.25" cy="1693.04" r="2.05"/><circle cx="1611.25" cy="1691.6" r="2.05"/><circle cx="1611.25" cy="1690.16" r="2.05"/><circle cx="1629.5" cy="1686.09" r="2.05"/><circle cx="1629.5" cy="1799.34" r="2.05"/><circle cx="1629.5" cy="1802.94" r="2.05"/><circle cx="1647.75" cy="1688.49" r="2.05"/><circle cx="1647.75" cy="1700.96" r="2.05"/><circle cx="1647.75" cy="1790.94" r="2.05"/><circle cx="1647.75" cy="1793.34" r="2.05"/></g><g stroke="#333333" stroke-width="0.62"><rect x="1311.45" y="1650.57" width="16.4" height="38.39" fill="#DE756E"/><rect x="1329.7" y="1638.58" width="16.4" height="35.27" fill="#68BA46"/><rect x="1347.95" y="1670.49" width="16.4" height="41.03" fill="#769BF9"/><rect x="1384.35" y="1686.81" width="16.4" height="29.75" fill="#DE756E"/><rect x="1402.6" y="1682.25" width="16.4" height="33.83" fill="#68BA46"/><rect x="1420.85" y="1696.4" width="16.4" height="38.87" fill="#769BF9"/><rect x="1457.25" y="1699.52" width="16.4" height="24.96" fill="#DE756E"/><rect x="1475.5" y="1699.52" width="16.4" height="30.95" fill="#68BA46"/><rect x="1493.75" y="1710.32" width="16.4" height="33.35" fill="#769BF9"/><rect x="1530.15" y="1710.8" width="16.4" height="17.76" fill="#DE756E"/><rect x="1548.4" y="1717.28" width="16.4" height="28.07" fill="#68BA46"/><rect x="1566.65" y="1724.48" width="16.4" height="27.11" fill="#769BF9"/><rect x="1603.05" y="1715.6" width="16.4" height="14.64" fill="#DE756E"/><rect x="1621.3" y="1731.92" width="16.4" height="26.63" fill="#68BA46"/><rect x="1639.55" y="1735.04" width="16.4" height="22.32" fill="#769BF9"/></g><path d="M1311.45 1668.81H1327.85M1329.7 1654.65H1346.1M1347.95 1689.21H1364.35M1384.35 1701.44H1400.75M1402.6 1699.04H1419M1420.85 1714.4H1437.25M1457.25 1712.24H1473.65M1475.5 1714.64H1491.9M1493.75 1726.4H1510.15M1530.15 1720.4H1546.55M1548.4 1731.2H1564.8M1566.65 1737.92H1583.05M1603.05 1722.8H1619.45M1621.3 1744.63H1637.7M1639.55 1746.79H1655.95" stroke="#333333" stroke-width="1.6" fill="none"/></g>
<text transform="translate(1337.6 1835.85) rotate(0.03) scale(1 1.05)" font-size="24.8" text-anchor="middle" stroke="#000" stroke-width="0.25">20</text>
<text transform="translate(1410.5 1835.85) rotate(0.03) scale(1 1.05)" font-size="24.8" text-anchor="middle" stroke="#000" stroke-width="0.25">100</text>
<text transform="translate(1483.4 1835.85) rotate(0.03) scale(1 1.05)" font-size="24.8" text-anchor="middle" stroke="#000" stroke-width="0.25">200</text>
<text transform="translate(1556.3 1835.85) rotate(0.03) scale(1 1.05)" font-size="24.8" text-anchor="middle" stroke="#000" stroke-width="0.25">500</text>
<text transform="translate(1629.2 1835.85) rotate(0.03) scale(1 1.05)" font-size="24.8" text-anchor="middle" stroke="#000" stroke-width="0.25">1000</text>
<path d="M1292.8 1806.15H1674.5M1337.9 1806.15V1811.85M1410.8 1806.15V1811.85M1483.7 1806.15V1811.85M1556.6 1806.15V1811.85M1629.5 1806.15V1811.85" stroke="#000" stroke-width="2.3" fill="none"/>
<rect x="122.3" y="1818.45" width="377.3" height="34.9" fill="#fff" stroke="#000" stroke-width="2.4"/>
<text transform="translate(310.95 1842.6) rotate(0.03) scale(1 1.04)" font-size="20.65" text-anchor="middle" fill="#1a1a1a">Siena (Italy)</text>
<g clip-path="url(#cB9)"><path d="M146.95 1941.78V1965.54M146.95 1982.57V2004.65M165.2 1918.99V1965.54M165.2 1996.25V2041.36M183.45 1941.78V1977.29M183.45 2001.53V2037.76M219.85 1971.78V1979.21M219.85 1986.17V1996.49M238.1 1958.1V2001.53M238.1 2031.52V2076.15M256.35 1968.18V1991.45M256.35 2006.57V2028.16M292.75 1977.77V1981.61M292.75 1986.65V1992.17M311 1978.01V2017.37M311 2044.72V2084.55M329.25 1976.57V1996.49M329.25 2011.37V2031.76M365.65 1980.89V1983.53M365.65 1986.41V1990.49M383.9 1998.17V2032.72M383.9 2058.4V2094.15M402.15 1980.89V2003.69M402.15 2019.05V2041.36M438.55 1982.57V1984.49M438.55 1986.41V1988.57M456.8 2015.45V2043.52M456.8 2067.52V2102.55M475.05 1990.25V2010.41M475.05 2024.56V2042.56" stroke="#333333" stroke-width="0.75" fill="none"/><g fill="#333333"><circle cx="146.95" cy="1940.58" r="2.05"/><circle cx="146.95" cy="1939.66" r="2.05"/><circle cx="146.95" cy="1938.61" r="2.05"/><circle cx="146.95" cy="1937.06" r="2.05"/><circle cx="146.95" cy="1935.81" r="2.05"/><circle cx="146.95" cy="1933.67" r="2.05"/><circle cx="146.95" cy="1930.99" r="2.05"/><circle cx="146.95" cy="1927.32" r="2.05"/><circle cx="146.95" cy="1922.58" r="2.05"/><circle cx="165.2" cy="1904.59" r="2.05"/><circle cx="165.2" cy="1917.79" r="2.05"/><circle cx="165.2" cy="1916.76" r="2.05"/><circle cx="165.2" cy="1915.67" r="2.05"/><circle cx="165.2" cy="1914.21" r="2.05"/><circle cx="165.2" cy="1912.12" r="2.05"/><circle cx="165.2" cy="1908.19" r="2.05"/><circle cx="165.2" cy="2043.28" r="2.05"/><circle cx="165.2" cy="2044" r="2.05"/><circle cx="165.2" cy="2044.83" r="2.05"/><circle cx="165.2" cy="2046.09" r="2.05"/><circle cx="165.2" cy="2047.17" r="2.05"/><circle cx="165.2" cy="2048.23" r="2.05"/><circle cx="165.2" cy="2049.38" r="2.05"/><circle cx="165.2" cy="2051.24" r="2.05"/><circle cx="165.2" cy="2053.16" r="2.05"/><circle cx="165.2" cy="2056.42" r="2.05"/><circle cx="165.2" cy="2060.41" r="2.05"/><circle cx="165.2" cy="2065.82" r="2.05"/><circle cx="165.2" cy="2066.56" r="2.05"/><circle cx="165.2" cy="2096.79" r="2.05"/><circle cx="183.45" cy="1916.83" r="2.05"/><circle cx="183.45" cy="1922.58" r="2.05"/><circle cx="183.45" cy="1930.98" r="2.05"/><circle cx="183.45" cy="1929.78" r="2.05"/><circle cx="183.45" cy="1939.38" r="2.05"/><circle cx="183.45" cy="1936.98" r="2.05"/><circle cx="183.45" cy="2038.96" r="2.05"/><circle cx="183.45" cy="2039.68" r="2.05"/><circle cx="183.45" cy="2040.43" r="2.05"/><circle cx="183.45" cy="2041.47" r="2.05"/><circle cx="183.45" cy="2042.72" r="2.05"/><circle cx="183.45" cy="2043.89" r="2.05"/><circle cx="183.45" cy="2045" r="2.05"/><circle cx="183.45" cy="2046.36" r="2.05"/><circle cx="183.45" cy="2048.05" r="2.05"/><circle cx="183.45" cy="2049.99" r="2.05"/><circle cx="183.45" cy="2052.28" r="2.05"/><circle cx="183.45" cy="2055.03" r="2.05"/><circle cx="183.45" cy="2057.94" r="2.05"/><circle cx="183.45" cy="2060.29" r="2.05"/><circle cx="183.45" cy="2064.38" r="2.05"/><circle cx="183.45" cy="2067.89" r="2.05"/><circle cx="183.45" cy="2072.65" r="2.05"/><circle cx="183.45" cy="2074.95" r="2.05"/><circle cx="183.45" cy="2078.55" r="2.05"/><circle cx="183.45" cy="2079.65" r="2.05"/><circle cx="183.45" cy="2080.59" r="2.05"/><circle cx="183.45" cy="2081.77" r="2.05"/><circle cx="183.45" cy="2083.23" r="2.05"/><circle cx="183.45" cy="2084.97" r="2.05"/><circle cx="183.45" cy="2088.47" r="2.05"/><circle cx="183.45" cy="2091.75" r="2.05"/><circle cx="219.85" cy="1970.58" r="2.05"/><circle cx="219.85" cy="1969.72" r="2.05"/><circle cx="219.85" cy="1968.72" r="2.05"/><circle cx="219.85" cy="1967.14" r="2.05"/><circle cx="219.85" cy="1965.59" r="2.05"/><circle cx="219.85" cy="1963.98" r="2.05"/><circle cx="219.85" cy="1961.22" r="2.05"/><circle cx="219.85" cy="1957.81" r="2.05"/><circle cx="219.85" cy="1953.3" r="2.05"/><circle cx="238.1" cy="1951.86" r="2.05"/><circle cx="238.1" cy="2077.35" r="2.05"/><circle cx="238.1" cy="2078.08" r="2.05"/><circle cx="238.1" cy="2079.06" r="2.05"/><circle cx="238.1" cy="2080.33" r="2.05"/><circle cx="238.1" cy="2081.73" r="2.05"/><circle cx="238.1" cy="2083.35" r="2.05"/><circle cx="238.1" cy="2084.41" r="2.05"/><circle cx="238.1" cy="2085.81" r="2.05"/><circle cx="238.1" cy="2087.17" r="2.05"/><circle cx="238.1" cy="2088.74" r="2.05"/><circle cx="238.1" cy="2091.48" r="2.05"/><circle cx="238.1" cy="2094.12" r="2.05"/><circle cx="238.1" cy="2097.77" r="2.05"/><circle cx="238.1" cy="2100.98" r="2.05"/><circle cx="238.1" cy="2105.85" r="2.05"/><circle cx="238.1" cy="2110.95" r="2.05"/><circle cx="238.1" cy="2113.83" r="2.05"/><circle cx="238.1" cy="2119.83" r="2.05"/><circle cx="238.1" cy="2132.78" r="2.05"/><circle cx="256.35" cy="1959.06" r="2.05"/><circle cx="256.35" cy="1964.1" r="2.05"/><circle cx="256.35" cy="2029.36" r="2.05"/><circle cx="256.35" cy="2030.19" r="2.05"/><circle cx="256.35" cy="2031.34" r="2.05"/><circle cx="256.35" cy="2032.66" r="2.05"/><circle cx="256.35" cy="2033.53" r="2.05"/><circle cx="256.35" cy="2034.78" r="2.05"/><circle cx="256.35" cy="2036.16" r="2.05"/><circle cx="256.35" cy="2037.32" r="2.05"/><circle cx="256.35" cy="2038.69" r="2.05"/><circle cx="256.35" cy="2039.96" r="2.05"/><circle cx="256.35" cy="2041.38" r="2.05"/><circle cx="256.35" cy="2042.98" r="2.05"/><circle cx="256.35" cy="2045.13" r="2.05"/><circle cx="256.35" cy="2047.59" r="2.05"/><circle cx="256.35" cy="2049.66" r="2.05"/><circle cx="256.35" cy="2051.61" r="2.05"/><circle cx="256.35" cy="2054.29" r="2.05"/><circle cx="256.35" cy="2057.95" r="2.05"/><circle cx="256.35" cy="2061" r="2.05"/><circle cx="256.35" cy="2064.69" r="2.05"/><circle cx="256.35" cy="2068.52" r="2.05"/><circle cx="256.35" cy="2072.55" r="2.05"/><circle cx="256.35" cy="2081.91" r="2.05"/><circle cx="292.75" cy="1976.57" r="2.05"/><circle cx="292.75" cy="1975.59" r="2.05"/><circle cx="292.75" cy="1974.74" r="2.05"/><circle cx="292.75" cy="1973.69" r="2.05"/><circle cx="292.75" cy="1972.09" r="2.05"/><circle cx="292.75" cy="1969.72" r="2.05"/><circle cx="292.75" cy="1966.18" r="2.05"/><circle cx="292.75" cy="1964.58" r="2.05"/><circle cx="292.75" cy="1994.57" r="2.05"/><circle cx="311" cy="2085.75" r="2.05"/><circle cx="311" cy="2086.52" r="2.05"/><circle cx="311" cy="2087.72" r="2.05"/><circle cx="311" cy="2089.01" r="2.05"/><circle cx="311" cy="2090.53" r="2.05"/><circle cx="311" cy="2092.51" r="2.05"/><circle cx="311" cy="2096.29" r="2.05"/><circle cx="311" cy="2098.95" r="2.05"/><circle cx="311" cy="2102.55" r="2.05"/><circle cx="311" cy="2103.55" r="2.05"/><circle cx="311" cy="2104.7" r="2.05"/><circle cx="311" cy="2106.39" r="2.05"/><circle cx="311" cy="2109.67" r="2.05"/><circle cx="311" cy="2110.95" r="2.05"/><circle cx="311" cy="2115.75" r="2.05"/><circle cx="311" cy="2123.66" r="2.05"/><circle cx="329.25" cy="1973.21" r="2.05"/><circle cx="329.25" cy="2032.96" r="2.05"/><circle cx="329.25" cy="2033.84" r="2.05"/><circle cx="329.25" cy="2034.67" r="2.05"/><circle cx="329.25" cy="2035.89" r="2.05"/><circle cx="329.25" cy="2036.87" r="2.05"/><circle cx="329.25" cy="2037.79" r="2.05"/><circle cx="329.25" cy="2039.53" r="2.05"/><circle cx="329.25" cy="2041.08" r="2.05"/><circle cx="329.25" cy="2043.27" r="2.05"/><circle cx="329.25" cy="2045.31" r="2.05"/><circle cx="329.25" cy="2048.35" r="2.05"/><circle cx="329.25" cy="2051.26" r="2.05"/><circle cx="329.25" cy="2054.04" r="2.05"/><circle cx="329.25" cy="2056.87" r="2.05"/><circle cx="329.25" cy="2061.54" r="2.05"/><circle cx="329.25" cy="2062.96" r="2.05"/><circle cx="329.25" cy="2066.56" r="2.05"/><circle cx="329.25" cy="2070.16" r="2.05"/><circle cx="329.25" cy="2075.67" r="2.05"/><circle cx="329.25" cy="2084.55" r="2.05"/><circle cx="365.65" cy="1979.69" r="2.05"/><circle cx="365.65" cy="1978.01" r="2.05"/><circle cx="365.65" cy="1976.33" r="2.05"/><circle cx="365.65" cy="1974.65" r="2.05"/><circle cx="365.65" cy="1972.97" r="2.05"/><circle cx="365.65" cy="1993.37" r="2.05"/><circle cx="383.9" cy="1992.41" r="2.05"/><circle cx="383.9" cy="2096.55" r="2.05"/><circle cx="383.9" cy="2097.75" r="2.05"/><circle cx="383.9" cy="2098.76" r="2.05"/><circle cx="383.9" cy="2100.69" r="2.05"/><circle cx="383.9" cy="2103.34" r="2.05"/><circle cx="383.9" cy="2104.95" r="2.05"/><circle cx="383.9" cy="2109.75" r="2.05"/><circle cx="383.9" cy="2113.35" r="2.05"/><circle cx="383.9" cy="2117.43" r="2.05"/><circle cx="383.9" cy="2126.54" r="2.05"/><circle cx="383.9" cy="2127.98" r="2.05"/><circle cx="383.9" cy="2129.42" r="2.05"/><circle cx="383.9" cy="2130.86" r="2.05"/><circle cx="402.15" cy="2043.28" r="2.05"/><circle cx="402.15" cy="2044.04" r="2.05"/><circle cx="402.15" cy="2044.97" r="2.05"/><circle cx="402.15" cy="2046.26" r="2.05"/><circle cx="402.15" cy="2048.3" r="2.05"/><circle cx="402.15" cy="2050.03" r="2.05"/><circle cx="402.15" cy="2052.89" r="2.05"/><circle cx="402.15" cy="2056.96" r="2.05"/><circle cx="402.15" cy="2061.76" r="2.05"/><circle cx="402.15" cy="2064.16" r="2.05"/><circle cx="402.15" cy="2068.96" r="2.05"/><circle cx="402.15" cy="2070.76" r="2.05"/><circle cx="402.15" cy="2072.55" r="2.05"/><circle cx="438.55" cy="1981.37" r="2.05"/><circle cx="438.55" cy="1979.57" r="2.05"/><circle cx="438.55" cy="1977.77" r="2.05"/><circle cx="438.55" cy="1990.25" r="2.05"/><circle cx="456.8" cy="2103.75" r="2.05"/><circle cx="456.8" cy="2104.98" r="2.05"/><circle cx="456.8" cy="2105.88" r="2.05"/><circle cx="456.8" cy="2106.86" r="2.05"/><circle cx="456.8" cy="2108.7" r="2.05"/><circle cx="456.8" cy="2111.08" r="2.05"/><circle cx="456.8" cy="2113.51" r="2.05"/><circle cx="456.8" cy="2115.8" r="2.05"/><circle cx="456.8" cy="2120.58" r="2.05"/><circle cx="456.8" cy="2121.75" r="2.05"/><circle cx="456.8" cy="2125.1" r="2.05"/><circle cx="475.05" cy="1986.41" r="2.05"/><circle cx="475.05" cy="2044.24" r="2.05"/><circle cx="475.05" cy="2045.43" r="2.05"/><circle cx="475.05" cy="2046.75" r="2.05"/><circle cx="475.05" cy="2048.73" r="2.05"/><circle cx="475.05" cy="2050.68" r="2.05"/><circle cx="475.05" cy="2055.28" r="2.05"/><circle cx="475.05" cy="2061.28" r="2.05"/></g><g stroke="#333333" stroke-width="0.62"><rect x="138.75" y="1965.54" width="16.4" height="17.04" fill="#DE756E"/><rect x="157" y="1965.54" width="16.4" height="30.71" fill="#68BA46"/><rect x="175.25" y="1977.29" width="16.4" height="24.24" fill="#769BF9"/><rect x="211.65" y="1979.21" width="16.4" height="6.96" fill="#DE756E"/><rect x="229.9" y="2001.53" width="16.4" height="29.99" fill="#68BA46"/><rect x="248.15" y="1991.45" width="16.4" height="15.12" fill="#769BF9"/><rect x="284.55" y="1981.61" width="16.4" height="5.04" fill="#DE756E"/><rect x="302.8" y="2017.37" width="16.4" height="27.35" fill="#68BA46"/><rect x="321.05" y="1996.49" width="16.4" height="14.88" fill="#769BF9"/><rect x="357.45" y="1983.53" width="16.4" height="2.88" fill="#DE756E"/><rect x="375.7" y="2032.72" width="16.4" height="25.67" fill="#68BA46"/><rect x="393.95" y="2003.69" width="16.4" height="15.36" fill="#769BF9"/><rect x="430.35" y="1984.49" width="16.4" height="1.92" fill="#DE756E"/><rect x="448.6" y="2043.52" width="16.4" height="24" fill="#68BA46"/><rect x="466.85" y="2010.41" width="16.4" height="14.16" fill="#769BF9"/></g><path d="M138.75 1974.89H155.15M157 1980.89H173.4M175.25 1987.61H191.65M211.65 1982.57H228.05M229.9 2014.49H246.3M248.15 1998.17H264.55M284.55 1984.01H300.95M302.8 2029.84H319.2M321.05 2002.25H337.45M357.45 1984.97H373.85M375.7 2045.2H392.1M393.95 2011.13H410.35M430.35 1985.45H446.75M448.6 2053.84H465M466.85 2016.89H483.25" stroke="#333333" stroke-width="1.6" fill="none"/></g>
<text transform="translate(103 1875.81) rotate(0.03) scale(1 1.05)" font-size="24.8" text-anchor="end" stroke="#000" stroke-width="0.25">0.0</text>
<text transform="translate(103 1940.13) rotate(0.03) scale(1 1.05)" font-size="24.8" text-anchor="end" stroke="#000" stroke-width="0.25">−2.5</text>
<text transform="translate(103 2004.45) rotate(0.03) scale(1 1.05)" font-size="24.8" text-anchor="end" stroke="#000" stroke-width="0.25">−5.0</text>
<text transform="translate(103 2068.77) rotate(0.03) scale(1 1.05)" font-size="24.8" text-anchor="end" stroke="#000" stroke-width="0.25">−7.5</text>
<text transform="translate(103 2133.09) rotate(0.03) scale(1 1.05)" font-size="24.8" text-anchor="end" stroke="#000" stroke-width="0.25">−10.0</text>
<text transform="translate(164.9 2174.45) rotate(0.03) scale(1 1.05)" font-size="24.8" text-anchor="middle" stroke="#000" stroke-width="0.25">20</text>
<text transform="translate(237.8 2174.45) rotate(0.03) scale(1 1.05)" font-size="24.8" text-anchor="middle" stroke="#000" stroke-width="0.25">100</text>
<text transform="translate(310.7 2174.45) rotate(0.03) scale(1 1.05)" font-size="24.8" text-anchor="middle" stroke="#000" stroke-width="0.25">200</text>
<text transform="translate(383.6 2174.45) rotate(0.03) scale(1 1.05)" font-size="24.8" text-anchor="middle" stroke="#000" stroke-width="0.25">500</text>
<text transform="translate(456.5 2174.45) rotate(0.03) scale(1 1.05)" font-size="24.8" text-anchor="middle" stroke="#000" stroke-width="0.25">1000</text>
<path d="M121.45 1853.55V2138.7M115 1867.41H121.45M115 1931.73H121.45M115 1996.05H121.45M115 2060.37H121.45M115 2124.69H121.45M120.3 2137.55H501.8M165.2 2137.55V2143.25M238.1 2137.55V2143.25M311 2137.55V2143.25M383.9 2137.55V2143.25M456.8 2137.55V2143.25" stroke="#000" stroke-width="2.3" fill="none"/>
<rect x="513.2" y="1818.45" width="377.3" height="34.9" fill="#fff" stroke="#000" stroke-width="2.4"/>
<text transform="translate(701.85 1842.6) rotate(0.03) scale(1 1.04)" font-size="20.65" text-anchor="middle" fill="#1a1a1a">Stockholm (Sweden)</text>
<g clip-path="url(#cB10)"><path d="M537.85 1931.46V1978.49M537.85 2017.61V2062.96M556.1 1921.39V1970.34M556.1 2003.93V2053.36M574.35 1946.1V1998.41M574.35 2037.28V2070.16M610.75 1974.17V2012.57M610.75 2040.4V2062.96M629 1963.86V2009.93M629 2040.4V2083.35M647.25 1984.97V2021.45M647.25 2046.4V2068.24M683.65 1990.97V2021.45M683.65 2044.48V2062.96M701.9 1982.57V2021.93M701.9 2048.32V2085.75M720.15 1999.37V2028.4M720.15 2049.52V2069.68M756.55 2006.33V2030.32M756.55 2046.4V2062.96M774.8 2007.77V2040.16M774.8 2062.48V2094.15M793.05 2012.57V2035.84M793.05 2051.2V2072.55M829.45 2019.77V2034.64M829.45 2045.68V2062M847.7 2022.16V2053.36M847.7 2075.43V2107.35M865.95 2024.56V2039.44M865.95 2051.2V2067.76" stroke="#333333" stroke-width="0.75" fill="none"/><g fill="#333333"><circle cx="556.1" cy="2058.16" r="2.05"/><circle cx="556.1" cy="2062.96" r="2.05"/><circle cx="556.1" cy="2064.16" r="2.05"/><circle cx="556.1" cy="2071.84" r="2.05"/><circle cx="556.1" cy="2079.99" r="2.05"/><circle cx="574.35" cy="1934.1" r="2.05"/><circle cx="610.75" cy="1969.62" r="2.05"/><circle cx="629" cy="1954.98" r="2.05"/><circle cx="629" cy="1960.5" r="2.05"/><circle cx="629" cy="2086.47" r="2.05"/><circle cx="629" cy="2096.55" r="2.05"/><circle cx="629" cy="2098.35" r="2.05"/><circle cx="629" cy="2100.15" r="2.05"/><circle cx="629" cy="2103.75" r="2.05"/><circle cx="629" cy="2106.15" r="2.05"/><circle cx="647.25" cy="1983.77" r="2.05"/><circle cx="647.25" cy="1982.97" r="2.05"/><circle cx="647.25" cy="1981.93" r="2.05"/><circle cx="647.25" cy="1980.27" r="2.05"/><circle cx="647.25" cy="1977.96" r="2.05"/><circle cx="647.25" cy="1975.67" r="2.05"/><circle cx="647.25" cy="1971.78" r="2.05"/><circle cx="683.65" cy="1986.41" r="2.05"/><circle cx="701.9" cy="1979.21" r="2.05"/><circle cx="701.9" cy="2087.67" r="2.05"/><circle cx="701.9" cy="2088.57" r="2.05"/><circle cx="701.9" cy="2089.73" r="2.05"/><circle cx="701.9" cy="2091.11" r="2.05"/><circle cx="701.9" cy="2092.64" r="2.05"/><circle cx="701.9" cy="2094.86" r="2.05"/><circle cx="701.9" cy="2098.95" r="2.05"/><circle cx="720.15" cy="1992.17" r="2.05"/><circle cx="720.15" cy="1990.61" r="2.05"/><circle cx="720.15" cy="1989.05" r="2.05"/><circle cx="720.15" cy="1997.69" r="2.05"/><circle cx="720.15" cy="1995.77" r="2.05"/><circle cx="774.8" cy="1995.53" r="2.05"/><circle cx="774.8" cy="2005.37" r="2.05"/><circle cx="774.8" cy="2096.55" r="2.05"/><circle cx="774.8" cy="2097.74" r="2.05"/><circle cx="774.8" cy="2098.71" r="2.05"/><circle cx="774.8" cy="2100.55" r="2.05"/><circle cx="774.8" cy="2103.78" r="2.05"/><circle cx="774.8" cy="2104.95" r="2.05"/><circle cx="774.8" cy="2109.03" r="2.05"/><circle cx="774.8" cy="2115.75" r="2.05"/><circle cx="774.8" cy="2130.14" r="2.05"/><circle cx="793.05" cy="2011.37" r="2.05"/><circle cx="793.05" cy="2009.57" r="2.05"/><circle cx="793.05" cy="2007.77" r="2.05"/><circle cx="829.45" cy="2018.57" r="2.05"/><circle cx="829.45" cy="2016.97" r="2.05"/><circle cx="829.45" cy="2015.37" r="2.05"/><circle cx="829.45" cy="2013.77" r="2.05"/><circle cx="847.7" cy="2019.05" r="2.05"/><circle cx="847.7" cy="2108.55" r="2.05"/><circle cx="847.7" cy="2109.7" r="2.05"/><circle cx="847.7" cy="2110.62" r="2.05"/><circle cx="847.7" cy="2112.15" r="2.05"/><circle cx="847.7" cy="2114.18" r="2.05"/><circle cx="847.7" cy="2117.14" r="2.05"/><circle cx="847.7" cy="2120.55" r="2.05"/><circle cx="847.7" cy="2124.86" r="2.05"/><circle cx="847.7" cy="2127.02" r="2.05"/><circle cx="865.95" cy="2022.88" r="2.05"/><circle cx="865.95" cy="2021.21" r="2.05"/><circle cx="865.95" cy="2019.53" r="2.05"/><circle cx="865.95" cy="2017.85" r="2.05"/><circle cx="865.95" cy="2016.17" r="2.05"/><circle cx="865.95" cy="2074.95" r="2.05"/></g><g stroke="#333333" stroke-width="0.62"><rect x="529.65" y="1978.49" width="16.4" height="39.11" fill="#DE756E"/><rect x="547.9" y="1970.34" width="16.4" height="33.59" fill="#68BA46"/><rect x="566.15" y="1998.41" width="16.4" height="38.87" fill="#769BF9"/><rect x="602.55" y="2012.57" width="16.4" height="27.83" fill="#DE756E"/><rect x="620.8" y="2009.93" width="16.4" height="30.47" fill="#68BA46"/><rect x="639.05" y="2021.45" width="16.4" height="24.96" fill="#769BF9"/><rect x="675.45" y="2021.45" width="16.4" height="23.04" fill="#DE756E"/><rect x="693.7" y="2021.93" width="16.4" height="26.39" fill="#68BA46"/><rect x="711.95" y="2028.4" width="16.4" height="21.12" fill="#769BF9"/><rect x="748.35" y="2030.32" width="16.4" height="16.08" fill="#DE756E"/><rect x="766.6" y="2040.16" width="16.4" height="22.32" fill="#68BA46"/><rect x="784.85" y="2035.84" width="16.4" height="15.36" fill="#769BF9"/><rect x="821.25" y="2034.64" width="16.4" height="11.04" fill="#DE756E"/><rect x="839.5" y="2053.36" width="16.4" height="22.08" fill="#68BA46"/><rect x="857.75" y="2039.44" width="16.4" height="11.76" fill="#769BF9"/></g><path d="M529.65 1997.45H546.05M547.9 1986.17H564.3M566.15 2018.09H582.55M602.55 2026H618.95M620.8 2025.04H637.2M639.05 2034.88H655.45M675.45 2032.96H691.85M693.7 2034.64H710.1M711.95 2038.96H728.35M748.35 2038H764.75M766.6 2050.96H783M784.85 2043.28H801.25M821.25 2040.4H837.65M839.5 2064.4H855.9M857.75 2045.44H874.15" stroke="#333333" stroke-width="1.6" fill="none"/></g>
<text transform="translate(555.8 2174.45) rotate(0.03) scale(1 1.05)" font-size="24.8" text-anchor="middle" stroke="#000" stroke-width="0.25">20</text>
<text transform="translate(628.7 2174.45) rotate(0.03) scale(1 1.05)" font-size="24.8" text-anchor="middle" stroke="#000" stroke-width="0.25">100</text>
<text transform="translate(701.6 2174.45) rotate(0.03) scale(1 1.05)" font-size="24.8" text-anchor="middle" stroke="#000" stroke-width="0.25">200</text>
<text transform="translate(774.5 2174.45) rotate(0.03) scale(1 1.05)" font-size="24.8" text-anchor="middle" stroke="#000" stroke-width="0.25">500</text>
<text transform="translate(847.4 2174.45) rotate(0.03) scale(1 1.05)" font-size="24.8" text-anchor="middle" stroke="#000" stroke-width="0.25">1000</text>
<path d="M511 2137.55H892.7M556.1 2137.55V2143.25M629 2137.55V2143.25M701.9 2137.55V2143.25M774.8 2137.55V2143.25M847.7 2137.55V2143.25" stroke="#000" stroke-width="2.3" fill="none"/>
<path d="M443.1 7.2V60.5" stroke="#333333" stroke-width="0.75"/>
<rect x="417.65" y="17.2" width="50.9" height="33.4" fill="#DE756E" stroke="#333333" stroke-width="0.75"/>
<path d="M417.3 33.7H468.9" stroke="#333333" stroke-width="0.75"/>
<text transform="translate(476.3 41.1) rotate(0.03) scale(1 1.04)" font-size="24.5" stroke="#000" stroke-width="0.25">Flexible logistic (Splines)</text>
<path d="M823.1 7.2V60.5" stroke="#333333" stroke-width="0.75"/>
<rect x="797.65" y="17.2" width="50.9" height="33.4" fill="#68BA46" stroke="#333333" stroke-width="0.75"/>
<path d="M797.3 33.7H848.9" stroke="#333333" stroke-width="0.75"/>
<text transform="translate(856.3 41.1) rotate(0.03) scale(1 1.04)" font-size="24.5" stroke="#000" stroke-width="0.25">Flexible logistic (LOESS)</text>
<path d="M1203.3 7.2V60.5" stroke="#333333" stroke-width="0.75"/>
<rect x="1177.85" y="17.2" width="50.9" height="33.4" fill="#769BF9" stroke="#333333" stroke-width="0.75"/>
<path d="M1177.5 33.7H1229.1" stroke="#333333" stroke-width="0.75"/>
<text transform="translate(1236.5 41.1) rotate(0.03) scale(1 1.04)" font-size="24.5" stroke="#000" stroke-width="0.25">MIX−C</text>
<text transform="translate(3.9 125.8) rotate(0.03) scale(1 0.95)" font-size="46" font-weight="bold">A</text>
<text transform="translate(5.5 1188.8) rotate(0.03) scale(1 1.03)" font-size="41.9" font-weight="bold">B</text>
<text transform="translate(25.7 629.3) rotate(-89.97) scale(1 1.06)" font-size="28.9" text-anchor="middle" stroke="#000" stroke-width="0.25">log(MSCE)</text>
<text transform="translate(25.7 1664.2) rotate(-89.97) scale(1 1.06)" font-size="28.9" text-anchor="middle" stroke="#000" stroke-width="0.25">log(MSCE)</text>
<text transform="translate(897.6 2213.5) rotate(0.03)" font-size="24.7" text-anchor="middle" stroke="#000" stroke-width="0.25">Events per center</text></svg></body></html>
